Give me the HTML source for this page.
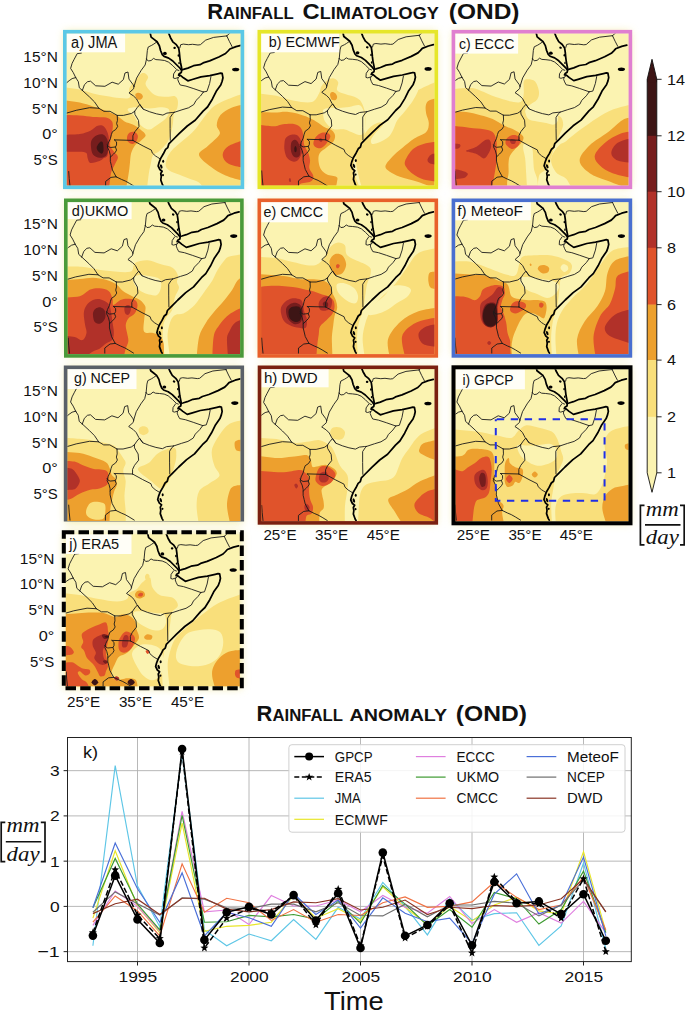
<!DOCTYPE html><html><head><meta charset="utf-8"><style>html,body{margin:0;padding:0;background:#fff;}body{width:685px;height:1011px;overflow:hidden;}svg{display:block;font-family:"Liberation Sans",sans-serif;}</style></head><body>
<svg width="685" height="1011" viewBox="0 0 685 1011">
<defs><clipPath id="pclipa"><rect x="0" y="0" width="174" height="152"/></clipPath><clipPath id="pclipb"><rect x="0" y="0" width="173.4" height="152"/></clipPath><clipPath id="pclipc"><rect x="0" y="0" width="173.4" height="152"/></clipPath><clipPath id="pclipd"><rect x="0" y="0" width="172.5" height="152"/></clipPath><clipPath id="pclipe"><rect x="0" y="0" width="173.4" height="152"/></clipPath><clipPath id="pclipf"><rect x="0" y="0" width="173.4" height="152"/></clipPath><clipPath id="pclipg"><rect x="0" y="0" width="173.1" height="152"/></clipPath><clipPath id="pcliph"><rect x="0" y="0" width="173.2" height="152"/></clipPath><clipPath id="pclipi"><rect x="0" y="0" width="173" height="152"/></clipPath><clipPath id="pclipj"><rect x="0" y="0" width="174" height="152"/></clipPath><clipPath id="gbclip"><rect x="-10" y="-10" width="200" height="162.5"/></clipPath><g id="mlines" fill="none" stroke-linejoin="round" stroke-linecap="round">
<g stroke="#1a1a1a" stroke-width="0.9">
<path d="M14.7,19.6 10.6,20.1 7.6,25.7 5.5,29.8 4,34.9 6.6,39 9.1,44.1"/>
<path d="M9.1,44.1 5.5,45.1 2.5,47.2 -1,50.2"/>
<path d="M9.1,44.1 11.7,48.2 12.7,54.3 15.7,56.9"/>
<path d="M15.7,56.9 17.8,51.2 20.9,48.2 23.9,47.7 29,52.3 38.2,52.8 45.4,48.7 51.5,50.7 56.6,46.1 58.2,39.5 61.2,38.5 62.2,45.6 66.3,51.2 67.2,53"/>
<path d="M15.7,56.9 22.9,63.5 28,68.6 32.1,74.7"/>
<path d="M-1,79.9 9.6,76.8 22.9,74.2 32.1,74.7"/>
<path d="M32.1,74.7 37.2,77.8 43.3,77.8 50.5,81.9"/>
<path d="M50.5,81.9 50.7,86.8 49.9,90 50.9,93 49,96 45.7,98.2 44.6,101.2 43.6,105.3 41.6,109.4 40.6,113.5 42.6,117.6 43.6,121.7 43.6,127.8 44.6,131.9 45.7,136.5 49.4,143.3"/>
<path d="M49.4,143.3 54.7,145.9 58.5,147.5 62.6,149.8 67.8,153"/>
<path d="M38.9,153 38.9,147.9 44.2,143.9 49.4,143.3"/>
<path d="M2.1,138 2.6,145 3.4,153"/>
<path d="M50.5,81.9 56.6,81.9 64.8,79.9 67.9,77.8"/>
<path d="M67.9,77.8 68.1,80.8 71.7,86.9 72.2,93.1 68.1,98.2 66.1,102.3 66.1,106.9"/>
<path d="M66.1,106.9 47.7,106.4"/>
<path d="M47.7,106.4 49.8,108.4 49.8,111.5 48.7,113.5 43.6,114 41.6,113 40.6,111.5"/>
<path d="M48.7,113.5 49.8,116.6 48.7,118.6 46.7,120.7 43.6,123.7"/>
<path d="M66.1,106.9 76.3,112.5 84.5,116.6 85.5,119.6 88.7,122.5 90.6,123.7 93.2,125.3"/>
<path d="M90.2,8.3 87,10.5 84.9,11.8 81.4,13.5 80.5,17 79.7,25.6"/>
<path d="M79.7,25.6 78.3,31.5 74.4,36.8 69.8,44.6 67.2,53"/>
<path d="M79.7,25.6 81.4,27.5 84.3,27 86.7,24.9 89,26.1 93.1,26.4 97.8,27 101.8,28.7 105.9,32.2 110,36.3 112,37"/>
<path d="M109.2,36.8 106.7,40.4 106.4,44.5 108.2,45 111.3,44 113.2,42.5"/>
<path d="M67.2,53 66.8,55.3 62.2,59.4 66.8,62.5 69.8,65.5 72.4,70.4 76.4,75.7 82.9,78.3 89.5,80.3 96,81.6 100,79.6 105.3,79 107.2,78.9"/>
<path d="M67.9,77.8 70.5,74 73.1,71 76.4,75.7"/>
<path d="M107.2,78.9 105.8,80.2 103.2,84.1 103.2,95 103.4,106.8"/>
<path d="M107.2,78.9 115,76.3 121.6,74.3 126.9,71 129,67 133.5,62.5 136.4,58.5"/>
<path d="M136.4,58.5 126.9,55.2 119,52.6 113.3,51.5 111.8,48.6 110.8,46 111.3,44"/>
<path d="M143.9,43.2 142.6,50 140,57.8 136.4,58.5"/>
<path d="M113,14.1 113.8,11.2 116.4,10.6 121.4,11.2 125.6,10.8 131,11.5 133.4,11.2 138.7,6.6 146.6,3.9 159.7,2.4"/>
<path d="M159.7,2.4 162.3,7.9 165,13.1"/>
<path d="M159.7,2.4 163.5,-1"/>
</g><g stroke="#000" stroke-width="1.75">
<path d="M83.2,-1 84.3,3.6 87.2,5.9 90.2,8.3 92.5,12.3 93.7,17 95.4,21.1 97.2,22.9 101.8,24.6 105.9,27.5 109.4,31 112.9,34.5 114.7,36.9 114.4,38.9 112.3,40.2 111.7,41.6 113.5,41.8 116.5,44.3 120.9,47.3 125.3,46 134,43.4 142.8,42.1 150.7,40.3 153.5,39.6 155.1,39.9 155.9,44.3 155.1,47.8 153.7,51.5 149.2,57.8 145.3,65.7 140.5,73.5 136.1,77.6 128.2,86.8 120.3,92.5 112.4,99.9 105.8,106.5 101.9,110.4 100.9,114.1 98.7,115.9 96.5,120.3 93.9,124.6 92.2,129 91.3,132.5 93,136 95.2,137.8 93.9,140 94.4,143 93.9,146.5 95.7,151.5 96.6,153"/>
<path d="M101.5,-1 103.6,4.2 105.9,8.3 109.4,11.2 111.8,14.7 112.4,18.8 112.9,24 113.5,28.7 114.7,34.5 114.9,36.3 116.5,35.9 120.9,34.6 126.6,32.2 133,31.2 136.1,29.4 142.6,27.4 151.8,23.5 158.5,20 161,17.5 162.8,15.5 168.9,13.1 174,11.8"/>
</g><g fill="#000" stroke="none">
<ellipse cx="98" cy="19.9" rx="1.9" ry="1.6" transform="rotate(0 98 19.9)"/>
<ellipse cx="107.7" cy="14.4" rx="1.3" ry="1.1" transform="rotate(20 107.7 14.4)"/>
<ellipse cx="111.5" cy="22" rx="0.8" ry="1.2" transform="rotate(0 111.5 22)"/>
<ellipse cx="112.1" cy="29.6" rx="0.7" ry="1.2" transform="rotate(0 112.1 29.6)"/>
<ellipse cx="168.6" cy="36" rx="3.6" ry="1.8" transform="rotate(0 168.6 36)"/>
<ellipse cx="96.3" cy="127.7" rx="1" ry="1.5" transform="rotate(0 96.3 127.7)"/>
<ellipse cx="94.4" cy="133" rx="1.1" ry="2.2" transform="rotate(-20 94.4 133)"/>
<ellipse cx="96.1" cy="141.7" rx="1" ry="1.1" transform="rotate(0 96.1 141.7)"/>
</g></g></defs>
<rect width="685" height="1011" fill="#fff"/>
<filter id="glow" x="-20%" y="-20%" width="140%" height="140%"><feGaussianBlur stdDeviation="4"/></filter>
<g filter="url(#glow)" opacity="0.9">
<rect x="64.6" y="31.5" width="178" height="156" fill="#f3eaa0"/>
<rect x="259.1" y="31.5" width="177.4" height="156" fill="#f3eaa0"/>
<rect x="453.2" y="31.5" width="177.4" height="156" fill="#f3eaa0"/>
<rect x="65.6" y="200.1" width="176.5" height="156" fill="#f3eaa0"/>
<rect x="259.1" y="200.1" width="177.4" height="156" fill="#f3eaa0"/>
<rect x="453.2" y="200.1" width="177.4" height="156" fill="#f3eaa0"/>
<rect x="65.4" y="367.1" width="177.1" height="156" fill="#f3eaa0"/>
<rect x="259.3" y="367.1" width="177.2" height="156" fill="#f3eaa0"/>
<rect x="453.5" y="367.3" width="177" height="156" fill="#f3eaa0"/>
<rect x="63.8" y="532.3" width="178" height="156" fill="#f3eaa0"/>
</g>
<text x="207.2" y="19.3" font-weight="bold" fill="#111" textLength="86.4" lengthAdjust="spacingAndGlyphs"><tspan font-size="22.5">R</tspan><tspan font-size="17.2">A</tspan><tspan font-size="17.2">I</tspan><tspan font-size="17.2">N</tspan><tspan font-size="17.2">F</tspan><tspan font-size="17.2">A</tspan><tspan font-size="17.2">L</tspan><tspan font-size="17.2">L</tspan></text>
<text x="302.6" y="19.3" font-weight="bold" fill="#111" textLength="136.3" lengthAdjust="spacingAndGlyphs"><tspan font-size="22.5">C</tspan><tspan font-size="17.2">L</tspan><tspan font-size="17.2">I</tspan><tspan font-size="17.2">M</tspan><tspan font-size="17.2">A</tspan><tspan font-size="17.2">T</tspan><tspan font-size="17.2">O</tspan><tspan font-size="17.2">L</tspan><tspan font-size="17.2">O</tspan><tspan font-size="17.2">G</tspan><tspan font-size="17.2">Y</tspan></text>
<text x="448.8" y="19.3" font-weight="bold" fill="#111" textLength="70.7" lengthAdjust="spacingAndGlyphs"><tspan font-size="22.5">(</tspan><tspan font-size="22.5">O</tspan><tspan font-size="22.5">N</tspan><tspan font-size="22.5">D</tspan><tspan font-size="22.5">)</tspan></text>
<g transform="translate(66.6,33.5)">
<g clip-path="url(#pclipa)">
<g transform="scale(1.0029,1)">
<rect x="-1" y="-1" width="175.5" height="154" fill="#fbf3b1"/>
<path d="M-5,53.4C-5,53.4 7.9,54.9 13.1,56C18.3,57.1 21.9,58.9 26.3,60C30.7,61.1 35,61.9 39.4,62.6C43.8,63.4 48.7,64.3 52.6,64.5C56.5,64.7 61.2,65.7 62.9,64C64.6,62.3 61.1,57.9 62.9,54.1C64.7,50.3 71.9,42.5 73.4,41C74.9,39.5 76.1,39.2 77.4,39.6C78.7,40 81.1,41.8 81.3,43.6C81.5,45.4 78.5,48 78.7,50.2C78.9,52.4 80.8,54.7 82.6,56.7C84.3,58.7 86.3,60.9 89.2,62C92.1,63.1 96.6,63.2 99.7,63.3C102.8,63.4 105.7,62 107.6,62.6C109.5,63.2 110.5,65.1 110.9,67.2C111.3,69.3 110.9,73 110.2,75.1C109.5,77.2 107.7,77.5 107,80C106.3,82.5 106.5,86.7 106,90C105.5,93.3 104.8,97 104,100C103.2,103 102.2,105.8 101,108C99.8,110.2 98.5,111.3 97,113C95.5,114.7 93.8,116.5 92,118C90.2,119.5 87.3,120 86,122C84.7,124 84.7,127 84,130C83.3,133 82.7,135.5 82,140C81.3,144.5 80,157 80,157C80,157 -5,157 -5,157C-5,157 -5,53.4 -5,53.4Z" fill="#f9df7b"/>
<path d="M61.6,75.1C62.8,74.5 66,73.8 69.5,73.8C73,73.8 78.7,75.1 82.6,75.1C86.5,75.1 90,73.8 93.1,73.8C96.2,73.8 99.5,74.2 101,75.1C102.5,76 102.7,77.3 102.3,79.1C101.9,80.8 100.6,83.4 98.4,85.6C96.2,87.8 91.8,90.5 89.2,92.2C86.6,94 84.8,95.9 82.6,96.1C80.4,96.3 78,94.8 76,93.5C74,92.2 72.3,90.3 70.8,88.3C69.3,86.3 68.4,83.5 66.9,81.7C65.4,80 62.4,78.9 61.6,77.8C60.8,76.7 60.4,75.7 61.6,75.1Z" fill="#fbf3b1"/>
<path d="M178.5,59C178.5,59 165.1,63.8 160,66C154.9,68.2 151.3,69.7 148,72C144.7,74.3 142.3,77.3 140,80C137.7,82.7 136,85.3 134,88C132,90.7 130,93.7 128,96C126,98.3 124,100.2 122,102C120,103.8 118,105.3 116,107C114,108.7 112,110.2 110,112C108,113.8 105.7,115.8 104,118C102.3,120.2 100.8,122.5 100,125C99.2,127.5 98.3,130.8 99,133C99.7,135.2 101.8,136.7 104,138C106.2,139.3 109,139.8 112,141C115,142.2 118.7,143.7 122,145C125.3,146.3 129.3,147 132,149C134.7,151 138,157 138,157C138,157 178.5,157 178.5,157C178.5,157 178.5,59 178.5,59Z" fill="#f9df7b"/>
<path d="M-5,66.5C-5,66.5 7.9,68 13.1,69.1C18.3,70.2 21.9,71.6 26.3,73C30.7,74.4 35.5,76 39.4,77.5C43.3,79 46.8,80.3 49.9,82.1C53,83.8 55.1,86.5 57.8,88C60.5,89.5 63.4,89.7 66,91C68.6,92.3 71.5,94.1 73.6,95.9C75.7,97.7 78.8,99.8 78.8,101.8C78.8,103.8 75.3,106 73.6,107.7C71.8,109.4 69.8,109.7 68.3,111.7C66.8,113.7 65.3,116.5 64.4,119.6C63.5,122.7 63.5,126.6 63.1,130.1C62.7,133.6 62.5,136.1 61.8,140.6C61.1,145.1 59,157 59,157C59,157 -5,157 -5,157C-5,157 -5,66.5 -5,66.5Z" fill="#eda02e"/>
<path d="M68.5,61C68.6,60 69.6,59.6 70.5,59.4C71.4,59.2 73.1,59.4 74,60C74.9,60.6 76.1,62 76.1,63C76.1,64 75,65.5 74,65.9C73,66.3 70.9,66.3 70,65.5C69.1,64.7 68.4,62 68.5,61Z" fill="#eda02e"/>
<path d="M132,121.4C131.5,118 137.4,116 140.8,112.5C144.2,109 151.1,104.1 152.6,100.7C154.1,97.3 149.6,95.1 149.7,91.9C149.8,88.7 150.9,84.5 153.4,81.6C155.9,78.6 160.2,76 164.4,74.2C168.6,72.4 178.5,70.5 178.5,70.5C178.5,70.5 178.5,148 178.5,148C178.5,148 164.3,144.5 158.5,142C152.7,139.5 148.2,136.6 143.8,133.2C139.4,129.8 132.5,124.9 132,121.4Z" fill="#eda02e"/>
<path d="M-5,81.5C-5,81.5 7.9,81.8 13.1,82.1C18.3,82.4 21.9,83.1 26.3,83.4C30.7,83.7 36.2,83.3 39.4,84.1C42.6,84.9 44.2,86.2 45.3,88C46.4,89.8 46.1,92.2 46,94.6C45.9,97 45.1,99.7 44.7,102.5C44.3,105.3 43,109.1 43.4,111.7C43.8,114.3 46,116.3 47.3,118.3C48.6,120.3 51,121.5 51.2,123.5C51.4,125.5 49.7,127.7 48.6,130.1C47.5,132.5 45.6,135.4 44.7,138C43.8,140.6 43.9,142.7 43.4,145.9C42.9,149.1 42,157 42,157C42,157 -5,157 -5,157C-5,157 -5,81.5 -5,81.5Z" fill="#e0532b"/>
<path d="M60.4,103C60.7,101.5 61.7,99.8 63,99C64.3,98.2 66.7,98 68,98.5C69.3,99 70.7,100.6 71,102C71.3,103.4 70.8,105.6 70,107C69.2,108.4 67.5,110.2 66,110.4C64.5,110.6 61.9,109.2 61,108C60.1,106.8 60.1,104.5 60.4,103Z" fill="#e0532b"/>
<path d="M155.6,121.4C155.6,118.5 157.7,115.1 161.5,112.5C165.3,109.9 178.5,105.9 178.5,105.9C178.5,105.9 178.5,134.6 178.5,134.6C178.5,134.6 165.3,132.4 161.5,130.2C157.7,128 155.6,124.4 155.6,121.4Z" fill="#e0532b"/>
<path d="M-5,101.2C-5,101.2 8.3,101.2 13.1,100.5C17.9,99.8 20.8,98.5 23.7,97.2C26.6,95.9 28.2,93.5 30.2,92.6C32.2,91.7 34,91.5 35.5,92C37,92.5 38.3,93.9 39.4,95.9C40.5,97.9 41.7,100.7 42,103.8C42.3,106.9 41.6,111.2 41.4,114.3C41.2,117.4 41.5,120.5 40.7,122.2C39.9,124 38.1,123.9 36.8,124.8C35.5,125.7 35.1,126.7 32.9,127.5C30.7,128.3 25.7,129.8 23.7,129.4C21.7,129 21.7,126.4 21,124.8C20.3,123.2 21,120.7 19.7,119.6C18.4,118.5 16.5,118.5 13.1,118.3C9.7,118.1 -5,118.3 -5,118.3C-5,118.3 -5,101.2 -5,101.2Z" fill="#b13129"/>
<path d="M25,106.4C26,104.5 28.2,102.7 30.2,101.8C32.2,100.9 35,100.4 36.8,101.2C38.5,102 39.9,104 40.7,106.4C41.5,108.8 41.6,113 41.4,115.6C41.2,118.2 40.8,120.8 39.4,122.2C38,123.6 35.1,124.4 32.9,124.2C30.7,124 27.7,122.8 26.3,120.9C24.9,119 24.5,115.4 24.3,113C24.1,110.6 24,108.3 25,106.4Z" fill="#761d1d"/>
<path d="M30.2,113C30.6,111.6 32.5,109.1 33.5,108.4C34.5,107.8 35.6,107.8 36.1,109.1C36.6,110.4 37,115.2 36.8,117C36.6,118.8 35.8,120.2 34.8,120.2C33.8,120.2 31.7,118.2 30.9,117C30.1,115.8 29.8,114.4 30.2,113Z" fill="#3d1515"/>
<use href="#mlines" transform="translate(0,0)"/>
</g>
<rect x="-1" y="-1" width="59.5" height="19.8" fill="#fff" fill-opacity="0.9"/>
<text x="4.5" y="14.3" font-size="15.6" textLength="46.17" lengthAdjust="spacingAndGlyphs" fill="#111">a) JMA</text>
</g>
<rect x="-1.8" y="-1.8" width="177.6" height="155.6" fill="none" stroke="#5bc8e6" stroke-width="3.6"/>
</g>
<g transform="translate(261.1,33.5)">
<g clip-path="url(#pclipb)">
<g transform="scale(0.9994,1)">
<rect x="-1" y="-1" width="175.5" height="154" fill="#fbf3b1"/>
<path d="M-5,59.7C-5,59.7 8.9,60.9 15.2,62.2C21.5,63.5 27.1,66.2 33,67.3C38.9,68.4 46.6,69.8 50.8,68.6C55,67.4 56.4,62.6 58,60C59.6,57.4 59,54.9 60.4,52.7C61.8,50.5 64.3,48.1 66.3,46.8C68.3,45.5 70.4,44.5 72.2,44.8C74,45.1 76.4,46.8 77.1,48.8C77.8,50.8 74.9,54.7 76.1,56.7C77.2,58.7 80.7,59.3 84,60.6C87.3,61.9 93.1,62.9 95.9,64.5C98.7,66.1 99.7,67.4 101,70C102.3,72.6 103.5,75.8 104,80C104.5,84.2 104.3,90.3 104,95C103.7,99.7 103,104.7 102,108C101,111.3 99.3,112.2 98,115C96.7,117.8 95,121.7 94,125C93,128.3 91.8,131.7 92,135C92.2,138.3 93.7,141.3 95,145C96.3,148.7 100,157 100,157C100,157 -5,157 -5,157C-5,157 -5,59.7 -5,59.7Z" fill="#f9df7b"/>
<path d="M62.5,76C63.5,75.1 65.4,74.7 68,74.4C70.6,74.2 74.7,74.7 78,74.5C81.3,74.3 84.7,74 88,73.5C91.3,73 95.5,71.1 97.8,71.5C100.1,71.9 101,73.8 102,76C103,78.2 103.7,81.7 104,85C104.3,88.3 104.5,93.3 104,96C103.5,98.7 102.2,100.1 101,101C99.8,101.9 98.6,101.6 96.8,101.2C95,100.8 92.5,99.4 90.3,98.5C88.1,97.6 86.8,96.4 83.7,95.9C80.7,95.4 75.3,96.7 72,95.4C68.7,94.1 65.7,90.6 64,88C62.3,85.4 62.2,82 62,80C61.8,78 61.5,76.9 62.5,76Z" fill="#fbf3b1"/>
<path d="M178.5,46.8C178.5,46.8 162.6,53.4 157,56.7C151.4,60 148.4,62.7 145.1,66.5C141.8,70.3 139.1,76.6 137.2,79.5C135.3,82.4 134.9,83.6 133,85C131.1,86.4 128.5,87.3 126,88C123.5,88.7 120,88.6 118,89C116,89.4 115.4,89.8 114,90.5C112.6,91.2 111.2,91.9 109.5,93.5C107.8,95.1 105.9,97.2 104,100C102.1,102.8 99.5,105.8 98,110C96.5,114.2 95.2,120 95,125C94.8,130 95.9,134.7 97,140C98.1,145.3 101.6,157 101.6,157C101.6,157 178.5,157 178.5,157C178.5,157 178.5,46.8 178.5,46.8Z" fill="#f9df7b"/>
<path d="M157.3,56C157.3,57.8 154.2,63.4 152,67C149.8,70.6 146.7,74.2 144.1,77.5C141.5,80.8 138.3,83.6 136.3,86.7C134.3,89.8 133.8,93.1 132.3,95.9C130.8,98.8 129.5,101.6 127.1,103.8C124.7,106 120.5,108 117.9,109.1C115.3,110.2 112.6,110.9 111.3,110.4C110,110 109.6,108.2 110,106.4C110.4,104.7 112.2,102.1 113.9,99.9C115.7,97.7 118.8,95.3 120.5,93.3C122.2,91.3 122.4,89.9 124,88C125.6,86.1 127.7,84.3 130,82C132.3,79.7 135.3,77 138,74C140.7,71 143.7,67 146,64C148.3,61 150.1,57.3 152,56C153.9,54.7 157.3,54.2 157.3,56Z" fill="#fbf3b1"/>
<path d="M-5,78.3C-5,78.3 7.6,79 12.8,79C18,79 21.6,78 26,78.3C30.4,78.6 35.2,79.9 39.1,81C43,82.1 46.8,83.6 49.6,84.9C52.5,86.2 53.8,87.3 56.2,88.8C58.6,90.3 61.7,92.8 64.1,94.1C66.5,95.4 69,95.4 70.7,96.7C72.4,98 73.8,100 74,102C74.2,104 73.4,106.5 72,108.5C70.6,110.5 67.7,112.1 65.4,114C63.2,115.9 59.8,117.7 58.5,120C57.2,122.3 57.2,125.3 57.5,128C57.8,130.7 58.6,133.8 60,136C61.4,138.2 63.4,139.8 66,141C68.6,142.2 73.8,142.3 75.5,143.5C77.2,144.7 76.2,145.8 76,148C75.8,150.2 74,157 74,157C74,157 -5,157 -5,157C-5,157 -5,78.3 -5,78.3Z" fill="#eda02e"/>
<path d="M69,61C69.1,59.8 70.1,58.8 71,58.6C71.9,58.4 73.7,59.2 74.5,60C75.3,60.8 76.1,62.4 76.1,63.5C76.1,64.6 75.4,66.1 74.5,66.5C73.6,66.9 71.4,66.9 70.5,66C69.6,65.1 68.9,62.2 69,61Z" fill="#eda02e"/>
<path d="M124.4,132.7C124.8,130.3 128.2,126.6 131,123.5C133.8,120.4 137.8,117.4 141.5,114.3C145.2,111.2 149.4,107.7 153.3,105.1C157.2,102.5 162.8,101.1 165.2,98.5C167.6,95.9 167.8,92.5 167.8,89.4C167.8,86.4 165.7,83.1 165.2,80.2C164.7,77.3 164.3,74.2 164.8,72C165.3,69.8 165.7,68.3 168,67C170.3,65.7 178.5,64 178.5,64C178.5,64 178.5,157 178.5,157C178.5,157 163.9,150.8 157.3,148.5C150.7,146.2 143.7,144.9 138.9,143.2C134.1,141.4 130.8,139.8 128.4,138C126,136.2 124,135.1 124.4,132.7Z" fill="#eda02e"/>
<path d="M-5,90.8C-5,90.8 8.3,92.8 12.8,92.8C17.3,92.8 18.5,91.1 22,90.8C25.5,90.5 30.8,90 33.9,90.8C37,91.6 39,93.3 40.4,95.4C41.8,97.5 41.9,100.7 42.4,103.3C42.9,105.9 42.3,108.6 43.1,111.2C43.9,113.8 46,116.5 47,119.1C48,121.7 48.8,124.4 49,127C49.2,129.6 47.8,132.2 48.3,134.8C48.8,137.4 52.1,140.5 52.3,142.7C52.5,144.9 51.8,146.7 49.6,148C47.4,149.3 41.1,149.1 39.1,150.6C37.1,152.1 37.8,157 37.8,157C37.8,157 -5,157 -5,157C-5,157 -5,90.8 -5,90.8Z" fill="#e0532b"/>
<path d="M52.3,109.9C52.3,108.2 53.6,105 54.9,103.3C56.2,101.5 58.1,100.1 60.1,99.4C62.1,98.8 65.2,98.8 66.7,99.4C68.2,100.1 69.5,101.5 69.3,103.3C69.1,105 66.9,108 65.4,109.9C63.9,111.8 61.9,113.8 60.1,114.5C58.4,115.2 56.2,114.6 54.9,113.8C53.6,113 52.3,111.7 52.3,109.9Z" fill="#e0532b"/>
<path d="M144.1,127.5C145.2,124.4 148.9,118.4 152,115.6C155.1,112.8 158.1,111.7 162.5,110.4C166.9,109.1 178.5,107.7 178.5,107.7C178.5,107.7 178.5,148.5 178.5,148.5C178.5,148.5 166.9,147.2 162.5,145.9C158.1,144.6 154.8,142.6 152,140.6C149.2,138.6 146.8,136.2 145.5,134C144.2,131.8 143,130.6 144.1,127.5Z" fill="#e0532b"/>
<path d="M166.5,126.1C166.7,124.6 168.4,122 170.4,120.9C172.4,119.8 178.5,119.6 178.5,119.6C178.5,119.6 178.5,131.4 178.5,131.4C178.5,131.4 171.1,131 169.1,130.1C167.1,129.2 166.3,127.6 166.5,126.1Z" fill="#b13129"/>
<path d="M57.5,106C57.4,105.3 58.8,104.5 59.5,104.6C60.2,104.7 61.4,105.8 61.5,106.5C61.6,107.2 60.7,108.6 60,108.5C59.3,108.4 57.6,106.7 57.5,106Z" fill="#b13129"/>
<path d="M23.4,109.9C23.6,107.9 23.6,106 24.7,104.6C25.8,103.2 28,101.7 30,101.3C32,100.9 34.8,100.8 36.5,102C38.2,103.2 39.6,105.9 40.4,108.5C41.2,111.1 41.5,114.9 41.1,117.7C40.7,120.5 39.2,123.8 37.8,125.6C36.4,127.4 34.6,128.5 32.6,128.3C30.6,128.1 27.5,126.3 26,124.3C24.5,122.3 23.8,118.8 23.4,116.4C23,114 23.2,111.9 23.4,109.9Z" fill="#b13129"/>
<path d="M27.8,146C27.9,145.3 28.6,144.2 29,144.5C29.4,144.8 30.1,146.8 30,147.5C29.9,148.2 29,148.8 28.6,148.5C28.2,148.2 27.7,146.7 27.8,146Z" fill="#b13129"/>
<path d="M30,109.9C30.4,108.1 31.6,107 32.6,106.6C33.6,106.1 34.8,106.2 35.8,107.2C36.8,108.2 38,110.3 38.5,112.5C39,114.7 39.4,118.5 39.1,120.4C38.8,122.3 37.6,123.3 36.5,123.7C35.4,124.1 33.7,124 32.6,123C31.5,122 30.4,119.9 30,117.7C29.6,115.5 29.6,111.8 30,109.9Z" fill="#761d1d"/>
<path d="M33.2,115C33.3,114 33.9,112.6 34.3,112.5C34.7,112.4 35.3,113.6 35.5,114.5C35.7,115.4 35.6,117.3 35.3,118C35,118.7 34.1,119 33.8,118.5C33.4,118 33.1,116 33.2,115Z" fill="#3d1515"/>
<use href="#mlines" transform="translate(-1.5,-0.6)"/>
</g>
<rect x="-1" y="-1" width="79" height="19.8" fill="#fff" fill-opacity="0.9"/>
<text x="7.7" y="13.2" font-size="14.9" textLength="70.89" lengthAdjust="spacingAndGlyphs" fill="#111">b) ECMWF</text>
</g>
<rect x="-1.8" y="-1.8" width="177" height="155.6" fill="none" stroke="#e6e62a" stroke-width="3.6"/>
</g>
<g transform="translate(455.2,33.5)">
<g clip-path="url(#pclipc)">
<g transform="scale(0.9994,1)">
<rect x="-1" y="-1" width="175.5" height="154" fill="#fbf3b1"/>
<path d="M-5,55.9C-5,55.9 10.1,54.4 15.2,54.6C20.3,54.8 21.2,55.7 25.4,57.2C29.6,58.7 35.1,61.6 40.6,63.5C46.1,65.4 54.6,67.9 58.4,68.6C62.2,69.3 64.3,69.4 66,68C67.7,66.6 68.2,63.3 68.6,60C69,56.7 67.9,50.4 68.6,48C69.3,45.6 71.1,45.7 73,45.7C74.9,45.7 78.2,46 80,48C81.8,50 83.5,55 83.8,58C84.1,61 83.6,63.7 82,66C80.4,68.3 76,70 74,72C72,74 69.8,75.8 70,78C70.2,80.2 72.5,84 75,85C77.5,86 80.8,84.5 85,84C89.2,83.5 96.8,82 100,82C103.2,82 104.7,82.3 106,84C107.3,85.7 108.3,89 108,92C107.7,95 105.3,98.7 104,102C102.7,105.3 101.3,108.3 100,112C98.7,115.7 97.2,120.3 96,124C94.8,127.7 94.3,131.7 93,134C91.7,136.3 89.5,136.7 88,138C86.5,139.3 84.9,139.3 84,142C83.1,144.7 82,157 82,157C82,157 -5,157 -5,157C-5,157 -5,55.9 -5,55.9Z" fill="#f9df7b"/>
<path d="M71,80C71.7,78.6 74.8,77.8 78,77.5C81.2,77.2 86.2,78.1 90,78.5C93.8,78.9 98.8,78.8 101,80C103.2,81.2 103.3,84.2 103,86C102.7,87.8 101,90.4 99,91C97,91.6 93.8,90 91,89.5C88.2,89 84.8,88.6 82,88C79.2,87.4 75.8,87.3 74,86C72.2,84.7 70.3,81.4 71,80Z" fill="#fbf3b1"/>
<path d="M69.5,110.3C71,110.2 75.4,112.3 76.8,114.7C78.2,117.1 77.6,121.2 78,124.9C78.4,128.6 78.3,133.2 79,136.6C79.7,140 81.3,141.9 82,145.3C82.7,148.7 83,157 83,157C83,157 72,157 72,157C72,157 71.3,145.3 71,140C70.7,134.7 70.5,129.2 70,125C69.5,120.8 68.1,117.5 68,115C67.9,112.5 68,110.3 69.5,110.3Z" fill="#fbf3b1"/>
<path d="M178.5,70.4C178.5,70.4 164.6,73.3 158.4,75.7C152.2,78.1 146.3,81.8 141.3,84.9C136.3,88 132.1,91.2 128.2,94.1C124.3,96.9 120.8,99.6 117.7,102C114.6,104.4 112,107 109.8,108.5C107.6,110 106.3,109.6 104.5,111.2C102.7,112.8 100.4,115.7 99,118C97.6,120.3 96.3,122.7 96,125C95.7,127.3 96,129.5 97,132C98,134.5 99.7,137.8 102,140C104.3,142.2 108.4,142.5 111,145.3C113.6,148.1 117.7,157 117.7,157C117.7,157 178.5,157 178.5,157C178.5,157 178.5,70.4 178.5,70.4Z" fill="#f9df7b"/>
<path d="M-5,77.4C-5,77.4 8.4,78 14,78.9C19.6,79.8 24.2,81.3 28.6,82.6C33,83.9 36.6,85.2 40.3,86.9C43.9,88.6 47.1,91.1 50.5,92.8C53.9,94.5 57.8,95.5 60.7,97.2C63.6,98.9 67,101.1 68,103C69,104.9 67.8,106.8 66.6,108.8C65.4,110.8 62.7,112.5 60.7,114.7C58.8,116.9 56.1,119.6 54.9,122C53.7,124.4 53.6,126.4 53.4,129.3C53.1,132.2 53.6,136.3 53.4,139.5C53.2,142.7 52.2,145.4 52,148.3C51.8,151.2 52,157 52,157C52,157 -5,157 -5,157C-5,157 -5,77.4 -5,77.4Z" fill="#eda02e"/>
<path d="M124.5,127C124.5,122.3 129.9,116.5 134.6,111.8C139.2,107.1 146.9,103.2 152.4,99C157.9,94.8 163.2,88.9 167.6,86.4C171.9,83.9 178.5,83.8 178.5,83.8C178.5,83.8 178.5,157 178.5,157C178.5,157 159.7,150.2 152.4,147.3C145.1,144.4 139.2,143.1 134.6,139.7C129.9,136.3 124.5,131.7 124.5,127Z" fill="#eda02e"/>
<path d="M-5,92C-5,92 8.4,93.6 14,94.2C19.6,94.8 24.7,95 28.6,95.7C32.5,96.4 35.3,96.9 37.4,98.6C39.5,100.3 40.3,103.2 41,105.9C41.7,108.6 41.6,111.5 41.7,114.7C41.8,117.9 41.9,121.5 41.7,124.9C41.5,128.3 40.8,131.9 40.3,135.1C39.8,138.3 39.5,140.2 38.8,143.9C38.1,147.6 35.9,157 35.9,157C35.9,157 -5,157 -5,157C-5,157 -5,92 -5,92Z" fill="#e0532b"/>
<path d="M50.5,110.3C49.8,108.5 50.8,106 52,104.5C53.2,103 55.9,101.8 57.8,101.5C59.7,101.2 62.4,102 63.6,103C64.8,104 65.3,105.7 65.1,107.4C64.9,109.1 63.7,111.9 62.2,113.2C60.7,114.5 58.2,115.9 56.3,115.4C54.3,114.9 51.2,112.1 50.5,110.3Z" fill="#e0532b"/>
<path d="M139.7,121.9C140.5,118.1 145.7,112.8 149.9,109.2C154.1,105.6 160.3,102.2 165.1,100.3C169.9,98.4 178.5,97.8 178.5,97.8C178.5,97.8 178.5,144.8 178.5,144.8C178.5,144.8 163.1,141.8 157.5,139.7C151.9,137.6 147.8,135.1 144.8,132.1C141.8,129.1 138.8,125.7 139.7,121.9Z" fill="#e0532b"/>
<path d="M11.1,116.9C12,116.4 18.4,114.8 21.3,113.2C24.2,111.6 26.4,108.5 28.6,107.4C30.8,106.3 33.2,105.6 34.4,106.6C35.6,107.6 36.1,110.9 35.9,113.2C35.7,115.5 34.2,118.5 33,120.5C31.8,122.5 30.6,124.9 28.6,124.9C26.7,124.9 24,121.6 21.3,120.5C18.6,119.4 13.4,118.6 12.5,118.3C11.6,118 10.2,117.4 11.1,116.9Z" fill="#b13129"/>
<path d="M-5,109.5C-5,109.5 2.9,110.2 4,110.5C5.1,110.8 5.4,111.8 5.2,112.5C5,113.2 4.6,114.6 3,115C1.4,115.4 -5,115 -5,115C-5,115 -5,109.5 -5,109.5Z" fill="#b13129"/>
<path d="M-5,135C-5,135 3.1,136.2 6,137C8.9,137.8 11.8,138.8 12.5,140C13.2,141.2 11.4,143.1 10,144C8.6,144.9 6.5,145 4,145.3C1.5,145.6 -5,146 -5,146C-5,146 -5,135 -5,135Z" fill="#b13129"/>
<path d="M54.9,106.5C55.1,105.8 56.5,105.4 57.5,105.5C58.5,105.6 60.4,106.2 60.7,107C61,107.8 60.3,109.8 59.5,110.3C58.7,110.8 56.8,110.6 56,110C55.2,109.4 54.6,107.2 54.9,106.5Z" fill="#b13129"/>
<path d="M156.2,119.4C156.2,116.4 158.9,111.8 162.6,109.2C166.3,106.7 178.5,104.1 178.5,104.1C178.5,104.1 178.5,129.5 178.5,129.5C178.5,129.5 166.3,128.7 162.6,127C158.9,125.3 156.2,122.4 156.2,119.4Z" fill="#b13129"/>
<use href="#mlines" transform="translate(-2.3,-0.2)"/>
</g>
<rect x="-1" y="-1" width="63.9" height="21.1" fill="#fff" fill-opacity="0.9"/>
<text x="3.7" y="15.4" font-size="14.9" textLength="55.39" lengthAdjust="spacingAndGlyphs" fill="#111">c) ECCC</text>
</g>
<rect x="-1.8" y="-1.8" width="177" height="155.6" fill="none" stroke="#e07fd0" stroke-width="3.6"/>
</g>
<g transform="translate(67.6,202.1)">
<g clip-path="url(#pclipd)">
<g transform="scale(0.9942,1)">
<rect x="-1" y="-1" width="175.5" height="154" fill="#fbf3b1"/>
<path d="M-5,64.6C-5,64.6 7.4,64 14.4,64.6C21.4,65.2 29.2,67.6 37.3,68.4C45.3,69.2 57.7,70.9 62.7,69.7C67.7,68.5 64.8,62.7 67.8,60.8C70.8,58.9 76.3,58 80.5,58.2C84.7,58.4 89,60.7 93.2,62C97.4,63.3 102.9,63.9 105.9,65.8C108.9,67.7 110.3,71.1 111,73.5C111.7,75.9 109.8,77.9 110,80C110.2,82.1 112.3,83.5 112,86C111.7,88.5 109,91.8 108,95C107,98.2 106.7,102.5 106,105C105.3,107.5 105.2,108.2 104,110C102.8,111.8 100.3,113.5 99,116C97.7,118.5 96.5,121 96,125C95.5,129 95.7,134.7 96,140C96.3,145.3 98,157 98,157C98,157 -5,157 -5,157C-5,157 -5,64.6 -5,64.6Z" fill="#f9df7b"/>
<path d="M66.3,76C67.1,74.5 69.4,73.3 72,73C74.6,72.7 78.6,73.3 82,74C85.4,74.7 90.6,75.2 92.6,77C94.6,78.8 94.4,82.4 94,85C93.6,87.6 92.3,91.6 90,92.8C87.7,94 83,92.8 80,92C77,91.2 74.2,89.7 72,88C69.8,86.3 68,84 67,82C66,80 65.5,77.5 66.3,76Z" fill="#fbf3b1"/>
<path d="M178.5,51.7C178.5,51.7 166.1,53.4 162.9,54.4C159.7,55.4 159.6,56.2 157.6,58.4C155.6,60.6 153,64.4 151,67.7C149,71 147.6,75 145.6,78.3C143.6,81.6 141.2,84.5 139,87.6C136.8,90.7 134.6,94 132.4,96.9C130.2,99.8 128.4,102.5 125.7,104.9C123,107.3 119.3,110.2 116.4,111.5C113.5,112.8 110.5,111.7 108.4,112.8C106.3,113.9 105.3,115.1 104,118C102.7,120.9 101.3,126.3 100.8,130C100.3,133.7 100.6,135.5 101,140C101.4,144.5 103.3,157 103.3,157C103.3,157 178.5,157 178.5,157C178.5,157 178.5,51.7 178.5,51.7Z" fill="#f9df7b"/>
<path d="M-5,78.3C-5,78.3 7.2,77.4 12.3,77C17.4,76.6 21.1,75.6 25.5,75.7C29.9,75.8 34.7,76.6 38.6,77.7C42.5,78.8 46.2,80.5 49.1,82.3C52,84.1 53.1,86.8 55.7,88.8C58.3,90.8 62.1,92.6 64.9,94.1C67.8,95.6 70.6,96.3 72.8,98C75,99.7 77.1,102 78,104C78.9,106 78.2,107.7 78,110C77.8,112.3 77.2,114.7 77,118C76.8,121.3 75.5,127.4 77,129.6C78.5,131.8 83.4,130.2 86,130.9C88.6,131.6 90.8,131.8 92.6,133.5C94.4,135.2 95.9,137.5 96.6,141.4C97.3,145.3 96.6,157 96.6,157C96.6,157 -5,157 -5,157C-5,157 -5,78.3 -5,78.3Z" fill="#eda02e"/>
<path d="M129.7,157C129.7,157 130.8,140.1 132.4,134.1C134,128.1 136.6,124.8 139,120.8C141.4,116.8 143.9,114 147,110.2C150.1,106.4 154.5,102 157.6,98.2C160.7,94.4 163.4,90.9 165.6,87.6C167.8,84.3 168.8,80.7 170.9,78.3C173.1,75.9 178.5,73 178.5,73C178.5,73 178.5,157 178.5,157C178.5,157 129.7,157 129.7,157Z" fill="#eda02e"/>
<path d="M-5,95.4C-5,95.4 7.7,95.4 12.3,94.1C16.9,92.8 19.6,88.8 22.9,87.5C26.2,86.2 29,86 32.1,86.2C35.2,86.4 39.1,87 41.3,88.8C43.5,90.5 44.4,94.3 45.2,96.7C46,99.1 44.7,102.8 46,103C47.3,103.2 50.9,99 53.2,98C55.5,97 57.4,96.7 59.8,96.7C62.2,96.7 66,96.9 67.7,98C69.5,99.1 70.3,101.1 70.3,103.3C70.3,105.5 69.2,109 67.7,111.2C66.2,113.4 62.6,114.4 61.1,116.4C59.6,118.4 58.7,120.6 58.5,123C58.3,125.4 59.4,128.3 59.8,130.9C60.2,133.5 61.3,136.2 61.1,138.8C60.9,141.4 59.4,143.6 58.5,146.6C57.6,149.6 56,157 56,157C56,157 -5,157 -5,157C-5,157 -5,95.4 -5,95.4Z" fill="#e0532b"/>
<path d="M145.6,157C145.6,157 145.9,139.7 147,134.1C148.1,128.5 150.1,126.8 152.3,123.5C154.5,120.2 157.7,116.7 160.3,114.2C163,111.8 165.2,110.3 168.2,108.8C171.2,107.2 178.5,104.9 178.5,104.9C178.5,104.9 178.5,157 178.5,157C178.5,157 145.6,157 145.6,157Z" fill="#e0532b"/>
<path d="M16.3,111.2C16.5,107.9 17.4,105.5 18.9,103.3C20.4,101.1 23.1,99 25.5,98C27.9,97 30.8,96.7 33.4,97.4C36,98.1 39.5,99.7 41.3,102C43,104.3 43.2,108.1 43.9,111.2C44.5,114.3 44.8,117.3 45.2,120.4C45.6,123.5 46.5,126.8 46.5,129.6C46.5,132.4 46.5,135.5 45.2,137.5C43.9,139.5 40.8,139.9 38.6,141.4C36.4,142.9 34.3,145.3 32.1,146.6C29.9,147.9 28.4,147.6 25.5,149.3C22.6,151 15,157 15,157C15,157 -5,157 -5,157C-5,157 -5,133.5 -5,133.5C-5,133.5 3.8,134.1 7.1,134.8C10.4,135.6 13,138.7 15,138C17,137.3 18.6,133.4 19,130.9C19.4,128.4 18.1,126.3 17.6,123C17.2,119.7 16.1,114.5 16.3,111.2Z" fill="#b13129"/>
<path d="M57.1,106C57.3,104.6 58.1,103.7 59,103.3C59.9,102.9 61.7,102.8 62.5,103.5C63.3,104.2 63.9,106 63.7,107.5C63.5,109 62.5,111.8 61.5,112.5C60.5,113.2 58.7,112.6 58,111.5C57.3,110.4 56.9,107.4 57.1,106Z" fill="#b13129"/>
<path d="M161.6,157C161.6,157 160.1,140.9 160.3,136.7C160.5,132.5 161.6,131.5 162.9,128.8C164.2,126.2 165.6,122.8 168.2,120.8C170.8,118.8 178.5,116.8 178.5,116.8C178.5,116.8 178.5,157 178.5,157C178.5,157 161.6,157 161.6,157Z" fill="#b13129"/>
<path d="M25.5,111.2C25.7,109.1 26.8,107.6 28.1,106.6C29.4,105.6 31.9,105 33.4,105.3C34.9,105.6 36.5,106.9 37.3,108.5C38.1,110.1 38.4,113.1 38,115.1C37.6,117.1 35.9,119.3 34.7,120.4C33.5,121.5 32,121.9 30.7,121.7C29.4,121.5 27.7,120.8 26.8,119.1C25.9,117.3 25.3,113.3 25.5,111.2Z" fill="#761d1d"/>
<use href="#mlines" transform="translate(-1.5,-2)"/>
</g>
<rect x="-1" y="-1" width="65" height="18" fill="#fff" fill-opacity="0.9"/>
<text x="4.2" y="14.3" font-size="14.9" textLength="56.47" lengthAdjust="spacingAndGlyphs" fill="#111">d)UKMO</text>
</g>
<rect x="-1.8" y="-1.8" width="176.1" height="155.6" fill="none" stroke="#4a9a3a" stroke-width="3.6"/>
</g>
<g transform="translate(261.1,202.1)">
<g clip-path="url(#pclipe)">
<g transform="scale(0.9994,1)">
<rect x="-1" y="-1" width="175.5" height="154" fill="#fbf3b1"/>
<path d="M-5,54.6C-5,54.6 9.3,55 15.2,55.9C21.1,56.8 24.6,58.4 30.5,59.7C36.4,61 45.7,63.7 50.8,63.5C55.9,63.3 58,61.4 61,58.4C64,55.4 66.1,48.7 68.6,45.7C71.1,42.7 73.7,41 76.2,40.6C78.7,40.2 82.1,41.1 83.8,43.2C85.5,45.3 83.4,50.3 86.4,53.3C89.4,56.3 97.8,58.9 101.6,61C105.4,63.1 107.9,63.9 109.2,66C110.5,68.1 109.7,71 109.2,73.7C108.7,76.4 106.9,78.5 106,82C105.1,85.5 104.7,90.7 104,95C103.3,99.3 103,103.8 102,108C101,112.2 99,115.5 98,120C97,124.5 96.2,128.8 96,135C95.8,141.2 97,157 97,157C97,157 -5,157 -5,157C-5,157 -5,54.6 -5,54.6Z" fill="#f9df7b"/>
<path d="M76.2,82C77.5,80.9 81.2,80.6 84,81.3C86.8,82 90.8,83.9 93,86C95.2,88.1 96.7,91.5 97,94C97.3,96.5 96.5,100 95,101C93.5,102 90.5,101.2 88,100C85.5,98.8 82,96 80,94C78,92 76.6,90 76,88C75.4,86 74.9,83.1 76.2,82Z" fill="#fbf3b1"/>
<path d="M178.5,45.7C178.5,45.7 162.7,47.8 157.5,50.8C152.3,53.8 151.1,58.4 147.3,63.5C143.5,68.6 139.2,75.8 134.6,81.3C129.9,86.8 123.6,91.8 119.4,96.5C115.2,101.2 111.8,105 109.2,109.2C106.7,113.4 105.4,117.2 104.1,121.9C102.8,126.6 101.6,131.3 101.6,137.2C101.6,143 104.1,157 104.1,157C104.1,157 178.5,157 178.5,157C178.5,157 178.5,45.7 178.5,45.7Z" fill="#f9df7b"/>
<path d="M132,84C128.7,85.5 126.7,90.3 124,93C121.3,95.7 118.3,98 116,100C113.7,102 111.7,103.3 110,105C108.3,106.7 106.3,108.7 106,110C105.7,111.3 106.3,112.7 108,113C109.7,113.3 113,112.8 116,112C119,111.2 122.7,109.8 126,108C129.3,106.2 132.7,103.2 136,101C139.3,98.8 143.7,97.2 146,95C148.3,92.8 150.3,89.8 150,88C149.7,86.2 147,84.7 144,84C141,83.3 135.3,82.5 132,84Z" fill="#fbf3b1"/>
<path d="M68.6,58.4C69.2,56.1 71.6,53 73.7,52.1C75.8,51.2 79.4,51.6 81.3,53.3C83.2,55 85.1,59.2 85.1,62.2C85.1,65.2 83.2,69.4 81.3,71.1C79.4,72.8 75.6,73.2 73.7,72.4C71.8,71.6 70.8,68.3 69.9,66C69.1,63.7 68,60.7 68.6,58.4Z" fill="#eda02e"/>
<path d="M75,63.5C75.2,62.9 76.2,62 76.8,62C77.4,62 78.6,62.8 78.7,63.5C78.8,64.2 78,65.6 77.5,66C77,66.4 75.9,66.2 75.5,65.8C75.1,65.4 74.8,64.1 75,63.5Z" fill="#e0532b"/>
<path d="M-5,71.8C-5,71.8 7.8,72.8 13,73.2C18.2,73.7 21.8,73.8 26.2,74.5C30.6,75.2 34.9,76.7 39.3,77.1C43.7,77.5 48.8,76.9 52.5,77.1C56.2,77.3 59.1,77.5 61.7,78.4C64.3,79.3 66.7,80.4 68.2,82.4C69.7,84.4 69.8,87.6 70.9,90.2C72,92.8 73.9,95.5 74.8,98.1C75.7,100.7 76.3,103.4 76.1,106C75.9,108.6 74.2,111.1 73.5,113.9C72.8,116.8 72.6,119.8 72.2,123.1C71.8,126.4 71.1,130.5 70.9,133.6C70.7,136.7 70.8,137.6 70.9,141.5C71,145.4 71.5,157 71.5,157C71.5,157 -5,157 -5,157C-5,157 -5,71.8 -5,71.8Z" fill="#eda02e"/>
<path d="M167.6,73C168,71.3 168.2,70.7 170,70C171.8,69.3 178.5,69 178.5,69C178.5,69 178.5,87 178.5,87C178.5,87 171.8,87.2 170,86C168.2,84.8 167.9,82.2 167.5,80C167.1,77.8 167.2,74.7 167.6,73Z" fill="#eda02e"/>
<path d="M127,137.2C128.7,130.9 134.6,124.1 139.7,119.4C144.8,114.7 151,111.5 157.5,109.2C164,106.9 178.5,105.4 178.5,105.4C178.5,105.4 178.5,157 178.5,157C178.5,157 129.5,157 129.5,157C129.5,157 125.3,143.5 127,137.2Z" fill="#eda02e"/>
<path d="M-5,85C-5,85 7.8,83.8 13,83.7C18.2,83.6 22.2,84 26.2,84.3C30.1,84.6 33.6,85 36.7,85.6C39.8,86.1 42.2,87 44.6,87.6C47,88.1 48.7,88.2 51.1,88.9C53.5,89.6 56.4,90.7 59,91.6C61.6,92.5 64.7,93.1 66.9,94.2C69.1,95.3 71.1,96.3 72.2,98.1C73.3,99.8 73.6,102.5 73.5,104.7C73.4,106.9 72.8,109.1 71.5,111.3C70.2,113.5 67.7,115.6 65.6,117.8C63.5,120 60.3,122 59,124.4C57.7,126.8 58.1,129.5 57.7,132.3C57.3,135.2 56.8,137.4 56.4,141.5C56,145.6 55.1,157 55.1,157C55.1,157 -5,157 -5,157C-5,157 -5,85 -5,85Z" fill="#e0532b"/>
<path d="M141,134.6C142.3,128.8 148,124.9 152.4,121.9C156.8,118.9 163.2,117.8 167.6,116.8C171.9,115.8 178.5,115.6 178.5,115.6C178.5,115.6 178.5,157 178.5,157C178.5,157 144.8,157 144.8,157C144.8,157 139.7,140.4 141,134.6Z" fill="#e0532b"/>
<path d="M19.6,107.3C19.8,104.3 21.6,101.9 23.6,100.1C25.6,98.2 28.8,96.6 31.4,96.2C34,95.8 37.5,96.5 39.3,97.5C41,98.5 41.2,100 41.9,102.1C42.6,104.2 42.6,107.4 43.3,110C44,112.6 45.7,115.2 45.9,117.8C46.1,120.4 45.9,124.4 44.6,125.7C43.3,127 40.6,126.1 38,125.7C35.4,125.3 31.4,124.4 28.8,123.1C26.2,121.8 23.7,120.4 22.2,117.8C20.7,115.2 19.4,110.2 19.6,107.3Z" fill="#b13129"/>
<path d="M57.7,100.8C58.2,98.8 60.2,96.6 61.7,95.5C63.2,94.4 65.4,93.8 66.9,94.2C68.4,94.6 70.5,96.1 70.9,98.1C71.3,100.1 70.6,104.2 69.5,106C68.4,107.8 66,108.4 64.3,108.6C62.5,108.8 60.1,108.6 59,107.3C57.9,106 57.2,102.8 57.7,100.8Z" fill="#b13129"/>
<path d="M157.5,132.1C157.9,129.2 161.6,126.2 165.1,124.5C168.6,122.8 178.5,121.9 178.5,121.9C178.5,121.9 178.5,144.8 178.5,144.8C178.5,144.8 166.1,144.3 162.6,142.2C159.1,140.1 157.1,135 157.5,132.1Z" fill="#b13129"/>
<path d="M24.9,107.3C25.2,104.9 27.1,103.2 28.8,102.1C30.6,101 33.4,100.4 35.4,100.8C37.4,101.2 39.5,102.7 40.6,104.7C41.7,106.7 42.1,110 41.9,112.6C41.7,115.2 40.8,119 39.3,120.5C37.8,122 34.8,122.5 32.7,121.8C30.6,121.1 28.1,118.9 26.8,116.5C25.5,114.1 24.6,109.7 24.9,107.3Z" fill="#761d1d"/>
<path d="M61.7,101.5C61.9,100.7 63.1,99.5 64,99.4C64.9,99.3 66.5,100.1 66.9,101C67.3,101.9 67.2,104.1 66.5,104.7C65.8,105.3 63.8,105 63,104.5C62.2,104 61.5,102.3 61.7,101.5Z" fill="#761d1d"/>
<path d="M27.5,108.6C27.9,106.6 29.6,105.3 31.4,104.7C33.1,104.1 36.5,103.8 38,104.7C39.5,105.6 40.4,107.8 40.6,110C40.8,112.2 40.4,116.2 39.3,117.8C38.2,119.4 35.9,120 34.1,119.8C32.4,119.6 29.9,118.4 28.8,116.5C27.7,114.6 27.1,110.6 27.5,108.6Z" fill="#3d1515"/>
<use href="#mlines" transform="translate(-1.5,-2)"/>
</g>
<rect x="-1" y="-1" width="67.8" height="21.2" fill="#fff" fill-opacity="0.9"/>
<text x="2.4" y="14.9" font-size="14.9" textLength="59.51" lengthAdjust="spacingAndGlyphs" fill="#111">e) CMCC</text>
</g>
<rect x="-1.8" y="-1.8" width="177" height="155.6" fill="none" stroke="#e8602a" stroke-width="3.6"/>
</g>
<g transform="translate(455.2,202.1)">
<g clip-path="url(#pclipf)">
<g transform="scale(0.9994,1)">
<rect x="-1" y="-1" width="175.5" height="154" fill="#fbf3b1"/>
<path d="M-5,59.7C-5,59.7 8.9,58.7 15.2,59.7C21.5,60.8 27.1,63.9 33,66C38.9,68.1 46.1,71.3 50.8,72.4C55.5,73.5 58.5,75.2 61,72.4C63.5,69.7 63.5,59.1 66,55.9C68.5,52.7 71.1,53.7 76.2,53.3C81.3,52.9 90.6,52.4 96.5,53.3C102.4,54.1 108.6,56.8 111.8,58.4C115,60 116.4,61.4 116.8,63.5C117.2,65.6 116.1,69 114.3,71.1C112.5,73.2 107.7,72.8 106,76C104.3,79.2 104.7,85.2 104,90C103.3,94.8 103,100.3 102,105C101,109.7 99,113 98,118C97,123 96.2,128.5 96,135C95.8,141.5 97,157 97,157C97,157 -5,157 -5,157C-5,157 -5,59.7 -5,59.7Z" fill="#f9df7b"/>
<path d="M64,76C65,74.8 68.3,74.8 72,75C75.7,75.2 81.7,76.3 86,77C90.3,77.7 95,77.8 98,79C101,80.2 103.7,81.8 104,84C104.3,86.2 102,90 100,92C98,94 95,96 92,96C89,96 85.3,93.3 82,92C78.7,90.7 74.7,89.7 72,88C69.3,86.3 67.3,84 66,82C64.7,80 63,77.2 64,76Z" fill="#fbf3b1"/>
<path d="M105.4,66C105.2,64.7 106.9,62.6 108,62.2C109.1,61.8 111.2,62.6 112,63.5C112.8,64.4 113.5,66.4 113,67.5C112.5,68.6 110.3,70.2 109,69.9C107.7,69.7 105.6,67.3 105.4,66Z" fill="#fbf3b1"/>
<path d="M178.5,44.5C178.5,44.5 163.1,45.1 157.5,48.3C151.9,51.5 149,58 144.8,63.5C140.6,69 136.8,75.8 132.1,81.3C127.4,86.8 121,91.8 116.8,96.5C112.6,101.2 109.2,105 106.7,109.2C104.2,113.4 102.7,117.2 101.6,121.9C100.5,126.6 100.3,131.3 100.3,137.2C100.3,143 101.6,157 101.6,157C101.6,157 178.5,157 178.5,157C178.5,157 178.5,44.5 178.5,44.5Z" fill="#f9df7b"/>
<path d="M82.6,67C82.3,65.7 83.8,64.1 85,63.5C86.2,62.9 88.5,62.8 90,63.2C91.5,63.6 93.6,64.8 94,66C94.4,67.2 93.7,69.7 92.5,70.5C91.3,71.3 88.7,71.7 87,71.1C85.3,70.5 82.9,68.3 82.6,67Z" fill="#eda02e"/>
<path d="M74.5,62.5C74.5,62.1 75.2,61.5 75.5,61.5C75.8,61.5 76.5,62.4 76.5,62.8C76.5,63.2 75.6,63.8 75.3,63.8C75,63.8 74.5,62.9 74.5,62.5Z" fill="#eda02e"/>
<path d="M-5,71.1C-5,71.1 9.3,72 15.2,72.4C21.1,72.8 25.8,72.7 30.5,73.7C35.2,74.8 39.6,77.2 43.2,78.7C46.9,80.2 50.2,79.8 52.4,82.4C54.6,85 54.4,91.8 56.3,94.2C58.2,96.6 61.1,96.3 64,97C66.8,97.7 70.1,97.9 73.4,98.1C76.7,98.3 81.2,97.8 84,98.1C86.8,98.4 88.8,98.6 90,100C91.2,101.4 91.6,104 91.4,106.7C91.2,109.4 90.2,114.8 89,116C87.8,117.2 85.7,114.8 84,114C82.3,113.2 80.8,111.8 78.6,111.3C76.4,110.8 73,110.2 70.8,111.3C68.6,112.4 67,115.4 65.5,117.8C64,120.2 62.9,122.6 61.6,125.7C60.3,128.8 58.5,132.7 57.6,136.2C56.7,139.7 56.3,143.2 56.3,146.7C56.3,150.2 57.6,157 57.6,157C57.6,157 -5,157 -5,157C-5,157 -5,71.1 -5,71.1Z" fill="#eda02e"/>
<path d="M121.9,137.2C122.7,130.9 126.1,124.9 129.5,119.4C132.9,113.9 138.8,109.2 142.2,104.1C145.6,99 148.2,94.4 149.9,88.9C151.6,83.4 150.7,76.2 152.4,71.1C154.1,66 155.7,61.4 160,58.4C164.3,55.4 178.5,53.3 178.5,53.3C178.5,53.3 178.5,157 178.5,157C178.5,157 124.5,157 124.5,157C124.5,157 121.1,143.5 121.9,137.2Z" fill="#eda02e"/>
<path d="M-5,94.2C-5,94.2 6.2,94.2 10.3,94.8C14.4,95.4 17.1,98.2 19.5,98.1C21.9,98 23.5,96 24.8,94.2C26.1,92.5 25.9,89.2 27.4,87.6C28.9,85.9 31.6,85.1 34,84.3C36.4,83.5 39.4,82.9 41.8,83C44.2,83.1 47.1,83.6 48.4,85C49.7,86.4 49.9,89.4 49.7,91.6C49.5,93.8 47.8,95.9 47.1,98.1C46.5,100.3 45.6,102.5 45.8,104.7C46,106.9 47.5,108.7 48.4,111.3C49.3,113.9 50.3,117.2 51,120.5C51.7,123.8 51.7,127.9 52.4,131C53.1,134.1 54.6,136.3 55,138.9C55.4,141.5 54.8,143.7 55,146.7C55.2,149.7 56.3,157 56.3,157C56.3,157 -5,157 -5,157C-5,157 -5,94.2 -5,94.2Z" fill="#e0532b"/>
<path d="M55,106C55.3,104.6 56.3,102 57.6,100.8C58.9,99.6 60.9,98.8 62.9,98.8C64.9,98.8 68.2,99.8 69.5,100.8C70.8,101.8 71.2,103.4 70.8,104.7C70.3,106 68.6,107.5 66.8,108.6C65,109.7 62.1,111.2 60.2,111.3C58.3,111.4 56.5,110.2 55.6,109.3C54.7,108.4 54.7,107.4 55,106Z" fill="#e0532b"/>
<path d="M84,102C84.2,101.2 85.2,100.4 86,100.5C86.8,100.6 88.3,101.7 88.5,102.5C88.7,103.3 87.7,105.1 87,105.5C86.3,105.9 85,105.6 84.5,105C84,104.4 83.8,102.8 84,102Z" fill="#e0532b"/>
<path d="M138.4,134.6C139,127.5 142.1,119.8 144.8,114.3C147.6,108.8 152.4,106.2 154.9,101.6C157.4,96.9 158.7,91.1 160,86.4C161.3,81.8 159.5,76.7 162.6,73.7C165.7,70.7 178.5,68.6 178.5,68.6C178.5,68.6 178.5,157 178.5,157C178.5,157 141,157 141,157C141,157 137.8,141.7 138.4,134.6Z" fill="#e0532b"/>
<path d="M24.8,107.3C24.8,104.5 25,102.5 26.1,100.8C27.2,99 29.3,98.3 31.3,96.8C33.3,95.3 35.9,93.6 37.9,91.6C39.9,89.6 41.5,85.7 43.2,85C45,84.3 48,86.1 48.4,87.6C48.8,89.1 46.7,91.8 45.8,94.2C44.9,96.6 43.9,99.2 43.2,102.1C42.5,104.9 42,108.2 41.8,111.3C41.6,114.4 42.4,118.3 41.8,120.5C41.1,122.7 39.9,124 37.9,124.4C35.9,124.8 32,124.2 30,123.1C28,122 27,120.4 26.1,117.8C25.2,115.2 24.8,110.1 24.8,107.3Z" fill="#b13129"/>
<path d="M32,140.8C32,140.1 33.3,138.8 34,138.8C34.7,138.8 36,140.1 36,140.8C36,141.5 34.7,142.8 34,142.8C33.3,142.8 32,141.5 32,140.8Z" fill="#b13129"/>
<path d="M149.9,124.5C150.8,121.5 154.6,116.8 157.5,114.3C160.4,111.8 164.1,110.5 167.6,109.2C171.1,107.9 178.5,106.7 178.5,106.7C178.5,106.7 178.5,142.2 178.5,142.2C178.5,142.2 166.9,138.9 162.6,137.2C158.2,135.5 154.5,134.2 152.4,132.1C150.3,130 149.1,127.5 149.9,124.5Z" fill="#b13129"/>
<path d="M27.3,110C27.8,107.4 28.9,104 30.5,102.4C32,100.8 34.9,100.4 36.6,100.4C38.4,100.4 40,100.6 41,102.4C42,104.2 42.3,108.2 42.5,111.3C42.7,114.4 43,118.7 42,121C41,123.3 38.5,124.7 36.6,125.2C34.7,125.7 32.4,125.2 30.8,124C29.2,122.8 27.9,120.3 27.3,118C26.7,115.7 26.8,112.6 27.3,110Z" fill="#761d1d"/>
<path d="M28.1,110C28.6,107.6 29.9,104.8 31.3,103.4C32.7,102 35.1,101.4 36.6,101.4C38.1,101.4 39.6,101.8 40.5,103.4C41.4,105.1 41.7,108.5 41.8,111.3C41.9,114.1 42.1,118.3 41.2,120.5C40.3,122.7 38.2,124 36.6,124.4C35,124.8 32.7,124.2 31.3,123.1C29.9,122 28.6,120 28.1,117.8C27.6,115.6 27.6,112.4 28.1,110Z" fill="#3d1515"/>
<use href="#mlines" transform="translate(-2.3,-2)"/>
</g>
<rect x="-1" y="-1" width="76.6" height="19.2" fill="#fff" fill-opacity="0.9"/>
<text x="2" y="14.3" font-size="14.9" textLength="65.78" lengthAdjust="spacingAndGlyphs" fill="#111">f) MeteoF</text>
</g>
<rect x="-1.8" y="-1.8" width="177" height="155.6" fill="none" stroke="#4a6fd0" stroke-width="3.6"/>
</g>
<g transform="translate(67.4,369.1)">
<g clip-path="url(#pclipg)">
<g transform="scale(0.9977,1)">
<rect x="-1" y="-1" width="175.5" height="154" fill="#fbf3b1"/>
<path d="M-5,68.6C-5,68.6 9.3,69.3 15.2,69.9C21.1,70.5 25.4,71.4 30.5,72.4C35.6,73.5 42.4,74.8 45.7,76.2C49,77.6 49.1,79.2 50.8,81.3C52.5,83.4 54.6,86.8 55.9,88.9C57.2,91 58.4,91.9 58.4,94C58.4,96.1 55.9,98.6 55.9,101.6C55.9,104.6 58.2,107.6 58.4,111.8C58.6,116 57.2,121.9 57.2,127C57.2,132.1 58.2,137.2 58.4,142.2C58.6,147.2 58.4,157 58.4,157C58.4,157 -5,157 -5,157C-5,157 -5,68.6 -5,68.6Z" fill="#f9df7b"/>
<path d="M71.1,99C72.4,97.3 77.9,96.5 81.3,94C84.7,91.5 87.2,86.3 91.4,83.8C95.6,81.2 103.7,78.3 106.7,78.7C109.7,79.1 109.2,83 109.2,86.4C109.2,89.8 108,94.8 106.7,99C105.4,103.2 103.7,108.4 101.6,111.8C99.5,115.2 97,119.4 94,119.4C91,119.4 87.2,114.3 83.8,111.8C80.4,109.2 75.7,106.1 73.7,104.1C71.7,102.1 69.8,100.7 71.1,99Z" fill="#f9df7b"/>
<path d="M71.5,60C71.9,58.8 73.6,57.5 75,57.2C76.4,57 79,57.5 80,58.5C81,59.5 81.8,61.8 81.3,63C80.8,64.2 78.5,65.8 77,66C75.5,66.2 73.4,65.5 72.5,64.5C71.6,63.5 71.1,61.2 71.5,60Z" fill="#f9df7b"/>
<path d="M178.5,50.8C178.5,50.8 166.9,52.1 162.6,54.6C158.2,57.1 155.4,61.5 152.4,66C149.4,70.5 145.7,76.2 144.8,81.3C144,86.4 146,92.3 147.3,96.5C148.6,100.7 153.2,103.7 152.4,106.7C151.6,109.7 145.6,111.8 142.2,114.3C138.8,116.8 134.2,118.1 132.1,121.9C130,125.7 129.5,131.3 129.5,137.2C129.5,143 132.1,157 132.1,157C132.1,157 178.5,157 178.5,157C178.5,157 178.5,50.8 178.5,50.8Z" fill="#f9df7b"/>
<path d="M167.6,74C167.8,72.3 168.7,71.7 170.5,71.1C172.3,70.5 178.5,70.5 178.5,70.5C178.5,70.5 178.5,82 178.5,82C178.5,82 171.3,82.6 169.5,81.3C167.7,80 167.4,75.7 167.6,74Z" fill="#eda02e"/>
<path d="M162.6,121.9C163.8,118.6 164.9,117.8 167.6,116.8C170.2,115.8 178.5,115.6 178.5,115.6C178.5,115.6 178.5,157 178.5,157C178.5,157 163.8,157 163.8,157C163.8,157 160.2,143 160,137.2C159.8,131.3 161.4,125.2 162.6,121.9Z" fill="#eda02e"/>
<path d="M-5,82.6C-5,82.6 7.2,83 12.3,83.9C17.4,84.8 21.1,86.4 25.5,87.9C29.9,89.4 35.8,91.1 38.6,93.1C41.5,95.1 41.6,97.5 42.6,99.7C43.6,101.9 43.5,104.3 44.5,106C45.5,107.7 47.7,108.3 48.5,110C49.3,111.7 49.8,114 49.5,116C49.2,118 47.8,119.7 47,122C46.2,124.3 45.7,127 45,130C44.3,133 43.5,135.5 43,140C42.5,144.5 42,157 42,157C42,157 -5,157 -5,157C-5,157 -5,82.6 -5,82.6Z" fill="#eda02e"/>
<path d="M18.9,141C19.4,138.8 21.1,135.4 23,134C24.9,132.6 27.6,132.4 30,132.6C32.4,132.8 36,133.3 37.3,135C38.6,136.7 38.2,140.6 38,143C37.8,145.4 37.8,148.3 36,149.6C34.2,150.8 29.7,150.9 27,150.5C24.3,150.1 21.4,148.6 20,147C18.6,145.4 18.4,143.2 18.9,141Z" fill="#f9df7b"/>
<path d="M-5,91.8C-5,91.8 3.8,91.8 7.1,92.5C10.4,93.2 11.9,94.6 15,95.8C18.1,97 22.4,98.9 25.5,99.7C28.6,100.5 31,100 33.4,100.4C35.8,100.8 38.6,100.9 39.9,102.3C41.2,103.7 41.3,106.7 41.3,108.9C41.3,111.1 41.4,113.8 39.9,115.5C38.4,117.2 34.9,118.5 32.1,119.4C29.3,120.3 26.2,119.8 22.9,120.7C19.6,121.6 15.6,123.2 12.3,124.7C9,126.2 6,128.8 3.1,129.9C0.2,131 -5,131.2 -5,131.2C-5,131.2 -5,91.8 -5,91.8Z" fill="#e0532b"/>
<path d="M-5,98.4C-5,98.4 1.8,98.2 4.5,99.7C7.2,101.2 9.7,105.4 11,107.6C12.3,109.8 12.7,110.9 12.3,112.9C11.9,114.9 9.9,118.1 8.4,119.4C6.9,120.7 5.3,120.5 3.1,120.7C0.9,120.9 -5,120.7 -5,120.7C-5,120.7 -5,98.4 -5,98.4Z" fill="#b13129"/>
<use href="#mlines" transform="translate(-0.8,-2)"/>
</g>
<rect x="-1" y="-1" width="70.1" height="20.9" fill="#fff" fill-opacity="0.9"/>
<text x="6.6" y="13.6" font-size="14.9" textLength="55.93" lengthAdjust="spacingAndGlyphs" fill="#111">g) NCEP</text>
</g>
<rect x="-1.8" y="-1.8" width="176.7" height="155.6" fill="none" stroke="#5a6068" stroke-width="3.6" clip-path="url(#gbclip)"/>
</g>
<g transform="translate(261.3,369.1)">
<g clip-path="url(#pcliph)">
<g transform="scale(0.9983,1)">
<rect x="-1" y="-1" width="175.5" height="154" fill="#fbf3b1"/>
<path d="M-5,68.6C-5,68.6 8.9,69.1 15.2,69.9C21.5,70.8 27.5,73.3 33,73.7C38.5,74.1 44.1,72.8 48.3,72.4C52.5,72 55,70.5 58.4,71.1C61.8,71.7 66,74.1 68.6,76.2C71.1,78.3 72,80.4 73.7,83.8C75.4,87.2 76.6,92.7 78.7,96.5C80.8,100.3 85.1,102.9 86.4,106.7C87.7,110.5 86.8,114.3 86.4,119.4C86,124.5 84.2,130.9 83.8,137.2C83.4,143.5 83.8,157 83.8,157C83.8,157 -5,157 -5,157C-5,157 -5,68.6 -5,68.6Z" fill="#f9df7b"/>
<path d="M69,63C69,61.1 70.3,59.2 72,58.4C73.7,57.6 77,57.6 79,58.4C81,59.2 83.5,61.1 83.8,63C84.1,64.9 83,68.8 81,69.9C79,71 74,70.7 72,69.5C70,68.3 69,64.8 69,63Z" fill="#f9df7b"/>
<path d="M178.5,57.1C178.5,57.1 166.5,61.5 162.5,63.7C158.5,65.9 157.1,67.6 154.7,70.2C152.3,72.8 150.3,76.3 148.1,79.4C145.9,82.5 143.2,85.5 141.5,88.6C139.8,91.7 138.9,94.7 137.6,97.8C136.3,100.9 135.3,104.8 133.6,107C131.8,109.2 129.9,110.1 127.1,111C124.3,111.9 120.1,111.6 116.6,112.3C113.1,113 108.6,113.6 106,114.9C103.4,116.2 102.1,117.6 100.8,120.2C99.5,122.8 98.8,125.3 98.2,130.7C97.6,136.1 96.8,157 96.8,157C96.8,157 178.5,157 178.5,157C178.5,157 178.5,57.1 178.5,57.1Z" fill="#f9df7b"/>
<path d="M-5,86.4C-5,86.4 9.3,88.7 15.2,88.9C21.1,89.1 26.6,88 30.5,87.6C34.4,87.2 36.2,86.9 38.7,86.6C41.2,86.3 43.5,85.5 45.3,85.9C47,86.3 48.3,87.6 49.2,89.2C50.1,90.8 50.1,94.5 50.5,95.8C50.9,97.1 50.9,97.8 52,98C53.1,98.2 54.9,97.5 57.1,97.1C59.3,96.7 62.4,95.4 65,95.8C67.6,96.2 71.2,98.2 72.9,99.7C74.7,101.2 76,102.8 75.5,105C75,107.2 72.6,110.5 70.2,112.9C67.8,115.3 62.5,117.2 61,119.4C59.5,121.6 60.8,123.8 61,126C61.2,128.2 62.2,130.4 62.4,132.6C62.6,134.8 63.1,137.1 62.4,139.1C61.7,141.1 59.1,141.4 58.4,144.4C57.7,147.4 58.4,157 58.4,157C58.4,157 -5,157 -5,157C-5,157 -5,86.4 -5,86.4Z" fill="#eda02e"/>
<path d="M158.6,79.4C159.2,77.9 159.6,75.6 162.5,74.2C165.4,72.8 178.5,70.2 178.5,70.2C178.5,70.2 178.5,92.6 178.5,92.6C178.5,92.6 168.5,88.8 165.2,87.3C161.9,85.8 159.7,84.7 158.6,83.4C157.5,82.1 157.9,80.9 158.6,79.4Z" fill="#eda02e"/>
<path d="M127.1,130.7C127.5,127.8 133,127.2 136.3,125.4C139.6,123.7 143.1,122.4 146.8,120.2C150.5,118 153.3,114.9 158.6,112.3C163.9,109.7 178.5,104.4 178.5,104.4C178.5,104.4 178.5,157 178.5,157C178.5,157 142.8,157 142.8,157C142.8,157 136.2,146.9 133.6,142.5C131,138.1 126.6,133.5 127.1,130.7Z" fill="#eda02e"/>
<path d="M-5,101.6C-5,101.6 7.6,102.7 12.7,102.9C17.8,103.1 21.1,103.2 25.4,102.9C29.7,102.6 35.7,100.9 38.7,101C41.7,101.1 42.5,102.2 44,103.7C45.5,105.2 47.2,106.9 47.9,110.2C48.5,113.5 47.7,119.9 47.9,123.4C48.1,126.9 48.6,128.8 49.2,131.2C49.9,133.6 51.6,135.6 51.8,137.8C52,140 51.6,142.9 50.5,144.4C49.4,145.9 46.4,144.9 45.3,147C44.2,149.1 44,157 44,157C44,157 -5,157 -5,157C-5,157 -5,101.6 -5,101.6Z" fill="#e0532b"/>
<path d="M54.5,107.6C55,105.2 56.6,100.2 58.4,98.4C60.1,96.7 62.8,96.7 65,97.1C67.2,97.5 70.1,99.5 71.6,101C73.1,102.5 74.7,104.1 74.2,106.3C73.8,108.5 71.1,112.5 68.9,114.2C66.7,116 63.3,117 61,116.8C58.7,116.6 56.2,114.4 55.1,112.9C54,111.4 54,110 54.5,107.6Z" fill="#e0532b"/>
<path d="M153.3,135.9C153.3,133.5 155.3,131.6 157.3,129.4C159.3,127.2 161.7,124.5 165.2,122.8C168.7,121 178.5,118.9 178.5,118.9C178.5,118.9 178.5,157 178.5,157C178.5,157 172.6,151.3 169.1,149.1C165.6,146.9 159.9,146 157.3,143.8C154.7,141.6 153.3,138.3 153.3,135.9Z" fill="#e0532b"/>
<path d="M57.7,108.9C57.7,107.4 58.5,104.7 59.7,103.7C60.9,102.7 63.7,102.1 65,103C66.3,103.9 67.6,107.2 67.6,108.9C67.6,110.6 66.3,112.2 65,112.9C63.7,113.6 60.9,113.6 59.7,112.9C58.5,112.2 57.7,110.4 57.7,108.9Z" fill="#b13129"/>
<path d="M33,116C33,115.2 34.4,114.1 35,114.3C35.6,114.5 36.8,116.2 36.8,117C36.8,117.8 35.6,119.6 35,119.4C34.4,119.2 33,116.8 33,116Z" fill="#b13129"/>
<path d="M43.2,137C43.5,135.9 44.6,134.4 45.5,134.6C46.4,134.8 48,136.7 48.3,138C48.5,139.3 47.7,141.7 47,142.2C46.3,142.7 44.6,141.9 44,141C43.4,140.1 43,138.1 43.2,137Z" fill="#b13129"/>
<use href="#mlines" transform="translate(-1.7,-1.6)"/>
</g>
<rect x="-1" y="-1" width="68.3" height="19.2" fill="#fff" fill-opacity="0.9"/>
<text x="2.6" y="14.3" font-size="14.9" textLength="53.80" lengthAdjust="spacingAndGlyphs" fill="#111">h) DWD</text>
</g>
<rect x="-1.8" y="-1.8" width="176.8" height="155.6" fill="none" stroke="#7a2010" stroke-width="3.6"/>
</g>
<g transform="translate(455.5,369.3)">
<g clip-path="url(#pclipi)">
<g transform="scale(0.9971,1)">
<rect x="-1" y="-1" width="175.5" height="154" fill="#fbf3b1"/>
<path d="M-5,59.7C-5,59.7 12.7,61.2 20.3,62.2C27.9,63.2 34.7,64.9 40.6,66C46.5,67.1 52.1,69.4 55.9,68.6C59.7,67.8 61,63.1 63.5,61C66,58.9 67.7,56.3 71.1,55.9C74.5,55.5 79.6,57.3 83.8,58.4C88,59.5 93.5,60.5 96.5,62.2C99.5,63.9 100.3,66.5 101.6,68.6C102.8,70.7 103.3,72.8 104,75C104.7,77.2 105.3,79.5 106,82C106.7,84.5 108.3,87 108,90C107.7,93 105.3,97 104,100C102.7,103 101,104.7 100,108C99,111.3 98.7,115.5 98,120C97.3,124.5 96.2,128.8 96,135C95.8,141.2 97,157 97,157C97,157 -5,157 -5,157C-5,157 -5,59.7 -5,59.7Z" fill="#f9df7b"/>
<path d="M62,76C63.2,74.4 68.8,76.2 72,76.2C75.2,76.2 77.6,76.5 81.3,76.2C85,75.9 90.9,74.2 94,74.5C97.1,74.8 98.7,76.1 100,78C101.3,79.9 102.3,83.7 102,86C101.7,88.3 100.3,90.3 98,92C95.7,93.7 91,95.3 88,96C85,96.7 82.7,96.7 80,96C77.3,95.3 74.5,93.7 72,92C69.5,90.3 66.7,88.7 65,86C63.3,83.3 60.8,77.6 62,76Z" fill="#fbf3b1"/>
<path d="M178.5,55.9C178.5,55.9 162.2,58.6 157.5,61C152.8,63.4 151.3,66.8 150,70C148.7,73.2 149.6,76.3 149.9,80C150.2,83.7 152,87.8 152,92C152,96.2 151,100.7 150,105C149,109.3 147.7,114.7 146,118C144.3,121.3 142.7,124 140,125C137.3,126 133.7,124.2 130,124C126.3,123.8 121.7,123.7 118,124C114.3,124.3 110.7,124.7 108,126C105.3,127.3 103.3,129.3 102,132C100.7,134.7 100.2,137.8 100,142C99.8,146.2 101,157 101,157C101,157 178.5,157 178.5,157C178.5,157 178.5,55.9 178.5,55.9Z" fill="#f9df7b"/>
<path d="M-5,87.4C-5,87.4 4.5,87.2 7.4,86.1C10.3,85 10.6,81.9 12.6,80.8C14.6,79.7 15.9,79.5 19.2,79.5C22.5,79.5 29.3,79.9 32.4,80.8C35.5,81.7 36.5,82.6 37.6,84.8C38.7,87 38.7,90.3 38.9,94C39.1,97.7 38.7,102.3 38.9,107.1C39.1,111.9 39.5,119 40.2,122.9C40.9,126.9 41.6,128.6 42.9,130.8C44.2,133 47.5,133.8 48.1,136C48.8,138.2 46.6,140.4 46.8,143.9C47,147.4 49.4,157 49.4,157C49.4,157 -5,157 -5,157C-5,157 -5,87.4 -5,87.4Z" fill="#eda02e"/>
<path d="M49.4,96.6C49.6,94.4 50,92.7 50.7,91.4C51.4,90.1 52.7,88.3 53.4,88.7C54.1,89.1 53.6,92.5 54.7,94C55.8,95.5 58,97 60,97.9C62,98.8 65.2,98.3 66.5,99.2C67.8,100.1 67.8,101.5 67.8,103.2C67.8,105 67.2,108 66.5,109.7C65.8,111.5 65,113.2 63.9,113.7C62.8,114.2 61.1,112 60,112.4C58.9,112.8 58.6,115.4 57.3,116.3C56,117.2 53.4,118.2 52.1,117.6C50.8,116.9 49.9,114.6 49.4,112.4C48.9,110.2 49.4,107.1 49.4,104.5C49.4,101.9 49.2,98.8 49.4,96.6Z" fill="#eda02e"/>
<path d="M76.5,105.3C76.5,104.3 78.5,102.3 79.5,102.3C80.5,102.3 82.5,104.3 82.5,105.3C82.5,106.3 80.5,108.3 79.5,108.3C78.5,108.3 76.5,106.3 76.5,105.3Z" fill="#eda02e"/>
<path d="M170.5,75C171.8,73.9 178.5,73.5 178.5,73.5C178.5,73.5 178.5,81.3 178.5,81.3C178.5,81.3 172.3,81 171,80C169.7,79 169.2,76.1 170.5,75Z" fill="#eda02e"/>
<path d="M149.9,127C151.6,123.6 154.6,121.1 157.5,119.4C160.4,117.7 164.1,117.7 167.6,116.8C171.1,115.9 178.5,114.3 178.5,114.3C178.5,114.3 178.5,157 178.5,157C178.5,157 152.4,157 152.4,157C152.4,157 147.7,144.7 147.3,139.7C146.9,134.7 148.2,130.4 149.9,127Z" fill="#eda02e"/>
<path d="M-5,97.9C-5,97.9 3.2,101.9 6.1,101.9C9,101.9 10.4,99.2 12.6,97.9C14.8,96.6 17,95.5 19.2,94C21.4,92.5 23.6,89.8 25.8,88.7C28,87.6 30.9,87 32.4,87.4C33.9,87.9 34.4,89.2 35,91.4C35.6,93.6 36.3,96.9 36.3,100.6C36.3,104.3 35.4,110 35,113.7C34.6,117.4 34.6,120.5 33.7,122.9C32.8,125.3 31.7,126.8 29.7,128.1C27.7,129.4 23.6,129.5 21.8,130.8C20.1,132.1 19.9,133.8 19.2,136C18.5,138.2 18.3,140.4 17.9,143.9C17.5,147.4 16.6,157 16.6,157C16.6,157 -5,157 -5,157C-5,157 -5,97.9 -5,97.9Z" fill="#e0532b"/>
<path d="M50.7,109.7C50.7,108.4 52.9,105.8 54,105.8C55.1,105.8 57.3,108.4 57.3,109.7C57.3,111 55.1,113.7 54,113.7C52.9,113.7 50.7,111 50.7,109.7Z" fill="#e0532b"/>
<path d="M19.2,105.8C19.9,104 21.7,102.8 23.2,101.9C24.7,101 27.1,100.2 28.4,100.6C29.7,101 30.5,102.5 31.2,104.5C31.9,106.5 32.4,110 32.4,112.4C32.4,114.8 32.1,117.6 31.2,119C30.3,120.4 28.7,121.1 27.1,120.9C25.5,120.7 23.1,119 21.8,117.6C20.5,116.2 19.6,114.4 19.2,112.4C18.8,110.4 18.5,107.5 19.2,105.8Z" fill="#b13129"/>
<path d="M23.8,108.4C24,106.8 24.9,104.5 25.8,103.8C26.7,103.1 28.3,103.5 29.1,104.5C29.9,105.5 30.3,107.7 30.4,109.7C30.5,111.7 30.4,115 29.7,116.3C29,117.6 27.3,118 26.4,117.6C25.5,117.2 24.9,115.2 24.5,113.7C24.1,112.2 23.6,110.1 23.8,108.4Z" fill="#761d1d"/>
<use href="#mlines" transform="translate(-2.6,-2.2)"/>
<rect x="40.4" y="50" width="109.1" height="81.4" fill="none" stroke="#1f2fe6" stroke-width="2" stroke-dasharray="7.4,6.6" stroke-dashoffset="-1"/>
</g>
<rect x="-1" y="-1" width="70.4" height="21" fill="#fff" fill-opacity="0.9"/>
<text x="7" y="15.3" font-size="14.9" textLength="50.95" lengthAdjust="spacingAndGlyphs" fill="#111">i) GPCP</text>
</g>
<rect x="-2" y="-2" width="177" height="156" fill="none" stroke="#000000" stroke-width="4"/>
</g>
<g transform="translate(65.8,534.3)">
<g clip-path="url(#pclipj)">
<g transform="scale(1.0029,1)">
<rect x="-1" y="-1" width="175.5" height="154" fill="#fbf3b1"/>
<path d="M-5,58.4C-5,58.4 8.9,59.9 15.2,61C21.5,62.1 27.1,63.8 33,64.8C38.9,65.8 46.1,67.3 50.8,67.3C55.5,67.3 58.9,66.3 61,64.8C63.1,63.3 61.8,60.1 63.5,58.4C65.2,56.7 69,56.3 71.1,54.6C73.2,52.9 74.1,50.2 76.2,48.3C78.3,46.4 82.1,42.4 83.8,43.2C85.5,44 84.7,50.3 86.4,53.3C88.1,56.3 90.6,59.3 94,61C97.4,62.7 103.7,61.8 106.7,63.5C109.7,65.2 111.9,68.7 111.8,71.1C111.7,73.5 107.3,74.8 106,78C104.7,81.2 104.7,85.5 104,90C103.3,94.5 103,100.3 102,105C101,109.7 99,113 98,118C97,123 96.2,128.5 96,135C95.8,141.5 97,157 97,157C97,157 -5,157 -5,157C-5,157 -5,58.4 -5,58.4Z" fill="#f9df7b"/>
<path d="M79,42C79.2,41.1 80.2,39.6 81,39.5C81.8,39.4 83.3,40.4 83.5,41.5C83.7,42.6 82.7,45.4 82,46C81.3,46.6 80,45.7 79.5,45C79,44.3 78.8,42.9 79,42Z" fill="#f9df7b"/>
<path d="M68,78C69,76.5 72.5,76.9 76,77C79.5,77.1 85.2,78.2 88.9,78.7C92.6,79.2 96.2,78.5 98,80C99.8,81.5 100.3,85.5 100,88C99.7,90.5 98,93.7 96,95C94,96.3 91,96.5 88,96C85,95.5 81,93.7 78,92C75,90.3 71.7,88.3 70,86C68.3,83.7 67,79.5 68,78Z" fill="#fbf3b1"/>
<path d="M66,120C66,116.3 69.7,113.7 72,112C74.3,110.3 77,110 80,110C83,110 87.3,110.7 90,112C92.7,113.3 94.8,114.7 96,118C97.2,121.3 97.3,128 97,132C96.7,136 95.8,139.7 94,142C92.2,144.3 88.7,146 86,146C83.3,146 80.3,144 78,142C75.7,140 74,137.7 72,134C70,130.3 66,123.7 66,120Z" fill="#fbf3b1"/>
<path d="M178.5,58.4C178.5,58.4 159.7,64.8 152.4,68.6C145.1,72.4 140.1,77.1 134.6,81.3C129.1,85.5 123.6,90.2 119.4,94C115.2,97.8 111.8,100.3 109.2,104.1C106.7,107.9 105.4,112.1 104.1,116.8C102.8,121.5 101.6,125.4 101.6,132.1C101.6,138.8 104.1,157 104.1,157C104.1,157 178.5,157 178.5,157C178.5,157 178.5,58.4 178.5,58.4Z" fill="#f9df7b"/>
<path d="M120,100C123.3,97.3 128,96.8 132,96C136,95.2 140.3,94.7 144,95C147.7,95.3 151.8,95.8 154,98C156.2,100.2 157,104.3 157,108C157,111.7 155.8,116.7 154,120C152.2,123.3 149.7,126 146,128C142.3,130 137,131.7 132,132C127,132.3 119.7,131.3 116,130C112.3,128.7 110.7,127 110,124C109.3,121 110.3,116 112,112C113.7,108 116.7,102.7 120,100Z" fill="#fbf3b1"/>
<path d="M-5,80.3C-5,80.3 7.4,79.3 12.5,79C17.6,78.7 21.3,78.3 25.7,78.3C30.1,78.3 34.9,78.2 38.8,79C42.7,79.8 46.4,82.7 49.3,82.9C52.1,83.1 53.5,80.5 55.9,80.3C58.3,80.1 61.6,80.5 63.8,81.6C66,82.7 67.9,84.6 69,86.8C70.1,89 69.7,92.1 70.4,94.7C71.1,97.3 73,100.4 73,102.6C73,104.8 72.2,105.5 70.4,107.9C68.6,110.3 64.1,116 61.2,118.4C58.4,120.8 55.3,120.5 53.3,122.3C51.3,124 50.6,126.1 49.3,128.9C48,131.8 45.3,136.6 45.4,139.4C45.5,142.2 48.2,145.1 50,146C51.8,146.9 54,145.3 56,145C58,144.7 59.7,143.8 62,144C64.3,144.2 68.3,143.8 70,146C71.7,148.2 72,157 72,157C72,157 -5,157 -5,157C-5,157 -5,80.3 -5,80.3Z" fill="#eda02e"/>
<path d="M69,60C69.2,58.8 70.7,57 72,56.5C73.3,56 75.8,56.2 77,57C78.2,57.8 79.3,59.8 79,61C78.7,62.2 76.4,63.6 75,64C73.6,64.4 71.5,64.2 70.5,63.5C69.5,62.8 68.8,61.2 69,60Z" fill="#eda02e"/>
<path d="M78.2,102.5C78.5,101.7 80.2,100.2 81.5,100C82.8,99.8 85.5,100.6 86.1,101.5C86.7,102.4 86.1,104.6 85,105.2C83.9,105.8 80.6,105.5 79.5,105C78.4,104.5 77.9,103.3 78.2,102.5Z" fill="#eda02e"/>
<path d="M147.3,132.1C148.8,128.7 151.9,124.5 154.9,121.9C157.9,119.4 161.2,117.8 165.1,116.8C169,115.8 178.5,115.6 178.5,115.6C178.5,115.6 178.5,157 178.5,157C178.5,157 149.9,157 149.9,157C149.9,157 146.4,146.3 146,142.2C145.6,138 145.8,135.5 147.3,132.1Z" fill="#eda02e"/>
<path d="M16.7,98.8C17.9,97.5 20.8,95.8 23.3,94.5C25.9,93.2 29.3,91.9 32,90.8C34.7,89.7 37.8,87.8 39.4,87.9C41,88 41.1,90.2 41.5,91.5C41.9,92.8 41.8,94.2 42,96C42.2,97.8 43.1,99.7 43,102C42.9,104.3 42,107.3 41.5,110C41,112.7 40.1,115.5 40,118C39.9,120.5 40.7,122.7 41,125C41.3,127.3 42.1,130 42,132C41.9,134 40.7,135.3 40.1,136.8C39.5,138.3 39.6,140.3 38.6,141.2C37.6,142 35.3,142.4 34.2,141.9C33.1,141.4 32.8,139.6 32.1,138.3C31.4,137 30.8,135.4 29.9,133.9C29,132.4 28.4,131.2 26.9,129.5C25.4,127.8 22.6,125.9 21.1,123.7C19.7,121.5 19.2,118.2 18.2,116.4C17.2,114.6 15.4,114.2 15.3,112.7C15.2,111.2 17.3,109.3 17.4,107.6C17.5,105.9 16.1,104 16,102.5C15.9,101 15.5,100.1 16.7,98.8Z" fill="#e0532b"/>
<path d="M-5,112C-5,112 0.8,111.1 3,112C5.2,112.9 7.7,116.1 8,117.5C8.3,118.9 7,119.9 5,120.5C3,121.1 -5,121 -5,121C-5,121 -5,112 -5,112Z" fill="#e0532b"/>
<path d="M-5,128.8C-5,128.8 3.8,127.8 6,128C8.2,128.2 8.3,129 10,130C11.7,131 13.8,133 16,133.9C18.2,134.8 22,134.5 23.3,135.3C24.6,136.2 24.6,138 24,139C23.4,140 21.3,141.5 19.6,141.2C17.9,140.9 15.3,137.4 14,137C12.7,136.6 11.7,137.7 12,139C12.3,140.3 14.5,143.4 16,145C17.5,146.6 19.5,146.5 21,148.5C22.5,150.5 25,157 25,157C25,157 -5,157 -5,157C-5,157 -5,128.8 -5,128.8Z" fill="#e0532b"/>
<path d="M54.6,102.6C55.8,100.8 57.9,97.7 59.9,97.3C61.9,96.9 64.9,98.7 66.4,100C67.9,101.3 69.2,102.8 69,105.2C68.8,107.6 66.8,112.2 65.1,114.4C63.3,116.6 60.5,118.2 58.5,118.4C56.5,118.6 54.3,117.5 53.3,115.7C52.3,114 52.4,110.1 52.6,107.9C52.8,105.7 53.4,104.4 54.6,102.6Z" fill="#e0532b"/>
<path d="M72,60.5C72.2,59.9 73.2,58.8 74,58.6C74.8,58.4 76.7,58.9 77,59.5C77.3,60.1 76.7,61.6 76,62C75.3,62.4 73.7,62.2 73,62C72.3,61.8 71.8,61.1 72,60.5Z" fill="#e0532b"/>
<path d="M79.6,117C79.6,116.3 80.8,115.6 81.5,115.7C82.2,115.8 83.5,116.8 83.5,117.5C83.5,118.2 82.2,119.8 81.5,119.7C80.8,119.6 79.6,117.7 79.6,117Z" fill="#e0532b"/>
<path d="M169.5,136C170.9,134.6 178.5,134.6 178.5,134.6C178.5,134.6 178.5,144.8 178.5,144.8C178.5,144.8 171.5,144.5 170,143C168.5,141.5 168.1,137.4 169.5,136Z" fill="#e0532b"/>
<path d="M26.9,106.1C27.4,104.6 28.7,104 29.9,103.2C31.1,102.4 32.9,101.5 34.2,101C35.6,100.5 36.9,99.7 38,100C39.1,100.3 40.7,101.3 41,103C41.3,104.7 40.7,107.8 40,110C39.3,112.2 37.3,113.7 37,116C36.7,118.3 37.3,122 38,124C38.7,126 41,126.9 41,128C41,129.1 39.3,130.2 38,130.5C36.7,130.8 34.6,130.6 33,129.5C31.4,128.4 28.9,125.8 28.4,124C27.9,122.2 30.2,120.5 30,118.5C29.8,116.5 27.5,114.1 27,112C26.5,109.9 26.4,107.6 26.9,106.1Z" fill="#b13129"/>
<path d="M55.9,109.2C56.1,107.2 57.4,102.4 58.5,101.3C59.6,100.2 62,100.8 62.5,102.6C63,104.3 62.1,110 61.2,111.8C60.3,113.5 58.1,113.5 57.2,113.1C56.3,112.7 55.7,111.2 55.9,109.2Z" fill="#b13129"/>
<path d="M48,144C47.9,143.2 49.6,142 50.5,142C51.4,142 53.2,143.2 53.3,144C53.4,144.8 51.9,146.5 51,146.5C50.1,146.5 48.1,144.8 48,144Z" fill="#b13129"/>
<path d="M36,101C36.2,100.2 37.9,99.9 39,100C40.1,100.1 42,100.8 42.5,101.5C43,102.2 42.8,103.5 42,104C41.2,104.5 39,105 38,104.5C37,104 35.8,101.8 36,101Z" fill="#761d1d"/>
<path d="M37,126.8C37.1,126.2 39.2,125.8 40,126C40.8,126.2 42.1,127.4 42,128C41.9,128.6 40.3,129.7 39.5,129.5C38.7,129.3 36.9,127.4 37,126.8Z" fill="#761d1d"/>
<path d="M38.5,102.5C38.4,102.1 39.8,101.5 40.5,101.4C41.2,101.4 42.7,101.8 42.8,102.2C42.9,102.6 41.7,103.5 41,103.6C40.3,103.6 38.6,102.9 38.5,102.5Z" fill="#3d1515"/>
<path d="M25.7,148C25.7,146.9 27.9,144.6 29,144.6C30.1,144.6 32.3,146.9 32.3,148C32.3,149.1 30.1,151.2 29,151.2C27.9,151.2 25.7,149.1 25.7,148Z" fill="#3d1515"/>
<path d="M61.5,148C61.5,146.9 63.8,144.6 65,144.6C66.2,144.6 68.8,146.9 68.8,148C68.8,149.1 66.2,151.2 65,151.2C63.8,151.2 61.5,149.1 61.5,148Z" fill="#3d1515"/>
<use href="#mlines" transform="translate(-1.7,-0.3)"/>
</g>
<rect x="-1" y="-1" width="66.7" height="20.7" fill="#fff" fill-opacity="0.9"/>
<text x="3.4" y="14.5" font-size="14.9" textLength="49.93" lengthAdjust="spacingAndGlyphs" fill="#111">j) ERA5</text>
</g>
<rect x="-2" y="-2" width="178" height="156" fill="none" stroke="#000000" stroke-width="4" stroke-dasharray="10.5,4.2"/>
</g>
<text x="23.3" y="62.3" font-size="14.8" textLength="34.53" lengthAdjust="spacingAndGlyphs" fill="#111">15°N</text>
<text x="23.3" y="88" font-size="14.8" textLength="34.53" lengthAdjust="spacingAndGlyphs" fill="#111">10°N</text>
<text x="32" y="113.7" font-size="14.8" textLength="25.81" lengthAdjust="spacingAndGlyphs" fill="#111">5°N</text>
<text x="42.2" y="139.4" font-size="14.8" textLength="15.57" lengthAdjust="spacingAndGlyphs" fill="#111">0°</text>
<text x="33.5" y="165.1" font-size="14.8" textLength="24.26" lengthAdjust="spacingAndGlyphs" fill="#111">5°S</text>
<text x="23.3" y="229.4" font-size="14.8" textLength="34.53" lengthAdjust="spacingAndGlyphs" fill="#111">15°N</text>
<text x="23.3" y="255.1" font-size="14.8" textLength="34.53" lengthAdjust="spacingAndGlyphs" fill="#111">10°N</text>
<text x="32" y="280.8" font-size="14.8" textLength="25.81" lengthAdjust="spacingAndGlyphs" fill="#111">5°N</text>
<text x="42.2" y="306.5" font-size="14.8" textLength="15.57" lengthAdjust="spacingAndGlyphs" fill="#111">0°</text>
<text x="33.5" y="332.2" font-size="14.8" textLength="24.26" lengthAdjust="spacingAndGlyphs" fill="#111">5°S</text>
<text x="23.3" y="396.3" font-size="14.8" textLength="34.53" lengthAdjust="spacingAndGlyphs" fill="#111">15°N</text>
<text x="23.3" y="422" font-size="14.8" textLength="34.53" lengthAdjust="spacingAndGlyphs" fill="#111">10°N</text>
<text x="32" y="447.7" font-size="14.8" textLength="25.81" lengthAdjust="spacingAndGlyphs" fill="#111">5°N</text>
<text x="42.2" y="473.4" font-size="14.8" textLength="15.57" lengthAdjust="spacingAndGlyphs" fill="#111">0°</text>
<text x="33.5" y="499.1" font-size="14.8" textLength="24.26" lengthAdjust="spacingAndGlyphs" fill="#111">5°S</text>
<text x="19.8" y="563.7" font-size="14.8" textLength="34.53" lengthAdjust="spacingAndGlyphs" fill="#111">15°N</text>
<text x="19.8" y="589.4" font-size="14.8" textLength="34.53" lengthAdjust="spacingAndGlyphs" fill="#111">10°N</text>
<text x="28.5" y="615.1" font-size="14.8" textLength="25.81" lengthAdjust="spacingAndGlyphs" fill="#111">5°N</text>
<text x="38.7" y="640.8" font-size="14.8" textLength="15.57" lengthAdjust="spacingAndGlyphs" fill="#111">0°</text>
<text x="30" y="666.5" font-size="14.8" textLength="24.26" lengthAdjust="spacingAndGlyphs" fill="#111">5°S</text>
<text x="263.4" y="539.7" font-size="14.9" textLength="33.18" lengthAdjust="spacingAndGlyphs" fill="#111">25°E</text>
<text x="315" y="539.7" font-size="14.9" textLength="33.18" lengthAdjust="spacingAndGlyphs" fill="#111">35°E</text>
<text x="366.7" y="539.7" font-size="14.9" textLength="33.18" lengthAdjust="spacingAndGlyphs" fill="#111">45°E</text>
<text x="456.8" y="539.7" font-size="14.9" textLength="33.18" lengthAdjust="spacingAndGlyphs" fill="#111">25°E</text>
<text x="508.4" y="539.7" font-size="14.9" textLength="33.18" lengthAdjust="spacingAndGlyphs" fill="#111">35°E</text>
<text x="559.8" y="539.7" font-size="14.9" textLength="33.18" lengthAdjust="spacingAndGlyphs" fill="#111">45°E</text>
<text x="67.1" y="706.8" font-size="14.9" textLength="33.18" lengthAdjust="spacingAndGlyphs" fill="#111">25°E</text>
<text x="118.9" y="706.8" font-size="14.9" textLength="33.18" lengthAdjust="spacingAndGlyphs" fill="#111">35°E</text>
<text x="170.9" y="706.8" font-size="14.9" textLength="33.18" lengthAdjust="spacingAndGlyphs" fill="#111">45°E</text>
<rect x="647.2" y="79.3" width="9.6" height="56.8" fill="#3d1515"/>
<rect x="647.2" y="135.8" width="9.6" height="56.2" fill="#761d1d"/>
<rect x="647.2" y="191.7" width="9.6" height="56.4" fill="#b13129"/>
<rect x="647.2" y="247.8" width="9.6" height="57.1" fill="#e0532b"/>
<rect x="647.2" y="304.6" width="9.6" height="55.8" fill="#eda02e"/>
<rect x="647.2" y="360.1" width="9.6" height="57" fill="#f9df7b"/>
<rect x="647.2" y="416.8" width="9.6" height="56.3" fill="#fbf3b1"/>
<path d="M647.2,82.3 L647.2,79.3 L652,59.3 L656.8,79.3 L656.8,82.3 Z" fill="#3d1515"/>
<path d="M647.2,469.8 L647.2,472.8 L652,492.3 L656.8,472.8 L656.8,469.8 Z" fill="#fbf3b1"/>
<path d="M647.2,472.8 L647.2,79.3 L652,59.3 L656.8,79.3 L656.8,472.8 L652,492.3 Z" fill="none" stroke="#111" stroke-width="0.9"/>
<line x1="656.8" y1="79.3" x2="661.6" y2="79.3" stroke="#111" stroke-width="0.9"/>
<text x="667" y="84.5" font-size="14.5" textLength="18.07" lengthAdjust="spacingAndGlyphs" fill="#111">14</text>
<line x1="656.8" y1="135.8" x2="661.6" y2="135.8" stroke="#111" stroke-width="0.9"/>
<text x="667" y="141" font-size="14.5" textLength="18.07" lengthAdjust="spacingAndGlyphs" fill="#111">12</text>
<line x1="656.8" y1="191.7" x2="661.6" y2="191.7" stroke="#111" stroke-width="0.9"/>
<text x="667" y="196.9" font-size="14.5" textLength="18.07" lengthAdjust="spacingAndGlyphs" fill="#111">10</text>
<line x1="656.8" y1="247.8" x2="661.6" y2="247.8" stroke="#111" stroke-width="0.9"/>
<text x="667" y="253" font-size="14.5" textLength="9.03" lengthAdjust="spacingAndGlyphs" fill="#111">8</text>
<line x1="656.8" y1="304.6" x2="661.6" y2="304.6" stroke="#111" stroke-width="0.9"/>
<text x="667" y="309.8" font-size="14.5" textLength="9.03" lengthAdjust="spacingAndGlyphs" fill="#111">6</text>
<line x1="656.8" y1="360.1" x2="661.6" y2="360.1" stroke="#111" stroke-width="0.9"/>
<text x="667" y="365.3" font-size="14.5" textLength="9.03" lengthAdjust="spacingAndGlyphs" fill="#111">4</text>
<line x1="656.8" y1="416.8" x2="661.6" y2="416.8" stroke="#111" stroke-width="0.9"/>
<text x="667" y="422" font-size="14.5" textLength="9.03" lengthAdjust="spacingAndGlyphs" fill="#111">2</text>
<line x1="656.8" y1="472.8" x2="661.6" y2="472.8" stroke="#111" stroke-width="0.9"/>
<text x="667" y="478" font-size="14.5" textLength="9.03" lengthAdjust="spacingAndGlyphs" fill="#111">1</text>
<path d="M644.5,505.4 H640.4 V544.8 H644.5" fill="none" stroke="#111" stroke-width="1.7"/>
<path d="M680,505.4 H684.2 V544.8 H680" fill="none" stroke="#111" stroke-width="1.7"/>
<text x="645.8" y="515.5" font-family="Liberation Serif" font-style="italic" font-size="21" textLength="33" lengthAdjust="spacingAndGlyphs" fill="#111">mm</text>
<line x1="645" y1="524.9" x2="680.5" y2="524.9" stroke="#111" stroke-width="1.6"/>
<text x="645.8" y="544" font-family="Liberation Serif" font-style="italic" font-size="20.5" textLength="33" lengthAdjust="spacingAndGlyphs" fill="#111">day</text>
<path d="M5.3,822.3 H1.2 V861.7 H5.3" fill="none" stroke="#111" stroke-width="1.7"/>
<path d="M40.8,822.3 H45 V861.7 H40.8" fill="none" stroke="#111" stroke-width="1.7"/>
<text x="6.6" y="832.4" font-family="Liberation Serif" font-style="italic" font-size="21" textLength="33" lengthAdjust="spacingAndGlyphs" fill="#111">mm</text>
<line x1="5.8" y1="841.8" x2="41.3" y2="841.8" stroke="#111" stroke-width="1.6"/>
<text x="6.6" y="860.9" font-family="Liberation Serif" font-style="italic" font-size="20.5" textLength="33" lengthAdjust="spacingAndGlyphs" fill="#111">day</text>
<text x="256.6" y="721.4" font-weight="bold" fill="#111" textLength="86.4" lengthAdjust="spacingAndGlyphs"><tspan font-size="22.5">R</tspan><tspan font-size="17.2">A</tspan><tspan font-size="17.2">I</tspan><tspan font-size="17.2">N</tspan><tspan font-size="17.2">F</tspan><tspan font-size="17.2">A</tspan><tspan font-size="17.2">L</tspan><tspan font-size="17.2">L</tspan></text>
<text x="349.5" y="721.4" font-weight="bold" fill="#111" textLength="97.7" lengthAdjust="spacingAndGlyphs"><tspan font-size="17.2">A</tspan><tspan font-size="17.2">N</tspan><tspan font-size="17.2">O</tspan><tspan font-size="17.2">M</tspan><tspan font-size="17.2">A</tspan><tspan font-size="17.2">L</tspan><tspan font-size="17.2">Y</tspan></text>
<text x="455.8" y="721.4" font-weight="bold" fill="#111" textLength="71.1" lengthAdjust="spacingAndGlyphs"><tspan font-size="22.5">(</tspan><tspan font-size="22.5">O</tspan><tspan font-size="22.5">N</tspan><tspan font-size="22.5">D</tspan><tspan font-size="22.5">)</tspan></text>
<g stroke="#b0b0b0" stroke-width="0.9">
<line x1="67.5" y1="951.65" x2="631.3" y2="951.65"/>
<line x1="67.5" y1="906.4" x2="631.3" y2="906.4"/>
<line x1="67.5" y1="861.15" x2="631.3" y2="861.15"/>
<line x1="67.5" y1="815.9" x2="631.3" y2="815.9"/>
<line x1="67.5" y1="770.65" x2="631.3" y2="770.65"/>
<line x1="137.5" y1="737.5" x2="137.5" y2="961.6"/>
<line x1="249" y1="737.5" x2="249" y2="961.6"/>
<line x1="360.5" y1="737.5" x2="360.5" y2="961.6"/>
<line x1="472" y1="737.5" x2="472" y2="961.6"/>
<line x1="583.5" y1="737.5" x2="583.5" y2="961.6"/>
</g>
<g fill="none" stroke-width="1.15" stroke-linejoin="miter">
<polyline points="92.9,945.77 115.2,765.67 137.5,886.04 159.8,926.76 182.1,753 204.4,929.93 226.7,945.77 249,934 271.3,940.79 293.6,919.52 315.9,939.43 338.2,907.3 360.5,919.07 382.8,882.42 405.1,906.4 427.4,934.91 449.7,898.71 472,919.98 494.3,913.64 516.6,912.74 538.9,945.31 561.2,925.86 583.5,862.96 605.8,948.48" stroke="#5ec6e6"/>
<polyline points="92.9,918.16 115.2,850.74 137.5,906.4 159.8,932.64 182.1,823.14 204.4,931.29 226.7,926.31 249,925.4 271.3,922.24 293.6,895.54 315.9,918.16 338.2,908.66 360.5,920.43 382.8,886.94 405.1,907.3 427.4,924.5 449.7,906.4 472,920.88 494.3,905.04 516.6,897.35 538.9,910.92 561.2,914.09 583.5,851.65 605.8,931.29" stroke="#e8e62a"/>
<polyline points="92.9,925.4 115.2,891.01 137.5,906.4 159.8,931.29 182.1,811.38 204.4,911.83 226.7,910.02 249,924.5 271.3,895.54 293.6,905.95 315.9,905.95 338.2,900.06 360.5,911.83 382.8,895.54 405.1,907.3 427.4,913.19 449.7,896.44 472,923.6 494.3,909.57 516.6,922.24 538.9,912.74 561.2,923.14 583.5,901.42 605.8,932.64" stroke="#df7fdf"/>
<polyline points="92.9,907.76 115.2,858.43 137.5,904.14 159.8,929.93 182.1,815.45 204.4,922.24 226.7,921.78 249,915.45 271.3,916.81 293.6,914.54 315.9,919.07 338.2,901.42 360.5,923.14 382.8,885.58 405.1,904.14 427.4,925.4 449.7,909.57 472,927.22 494.3,892.37 516.6,898.71 538.9,924.05 561.2,909.57 583.5,871.11 605.8,932.64" stroke="#3d9a30"/>
<polyline points="92.9,922.24 115.2,895.99 137.5,910.92 159.8,935.81 182.1,863.87 204.4,912.28 226.7,898.25 249,902.78 271.3,920.43 293.6,909.57 315.9,922.24 338.2,914.54 360.5,915.45 382.8,902.78 405.1,896.9 427.4,907.3 449.7,906.4 472,901.88 494.3,881.96 516.6,897.35 538.9,909.57 561.2,905.04 583.5,876.99 605.8,929.93" stroke="#f07142"/>
<polyline points="92.9,907.76 115.2,843.05 137.5,888.75 159.8,922.24 182.1,872.91 204.4,935.81 226.7,912.28 249,917.71 271.3,926.31 293.6,893.73 315.9,914.54 338.2,900.06 360.5,928.12 382.8,897.8 405.1,913.19 427.4,921.78 449.7,918.16 472,943.5 494.3,894.18 516.6,873.82 538.9,914.09 561.2,905.04 583.5,857.08 605.8,935.81" stroke="#4a6fd8"/>
<polyline points="92.9,912.28 115.2,891.92 137.5,903.68 159.8,915 182.1,897.8 204.4,899.16 226.7,907.76 249,908.66 271.3,904.14 293.6,904.14 315.9,911.83 338.2,902.78 360.5,915.45 382.8,915.9 405.1,904.14 427.4,916.81 449.7,905.04 472,905.04 494.3,901.42 516.6,903.23 538.9,915.9 561.2,905.04 583.5,880.15 605.8,911.83" stroke="#6e6e6e"/>
<polyline points="92.9,913.64 115.2,903.68 137.5,899.16 159.8,914.54 182.1,898.25 204.4,898.25 226.7,909.12 249,911.83 271.3,909.57 293.6,901.88 315.9,902.78 338.2,898.71 360.5,910.02 382.8,907.3 405.1,900.06 427.4,914.54 449.7,907.3 472,908.66 494.3,905.5 516.6,906.4 538.9,905.04 561.2,898.71 583.5,878.8 605.8,911.83" stroke="#8a3424"/>
</g>
<polyline points="92.9,932.64 115.2,869.75 137.5,915 159.8,938.53 182.1,751.64 204.4,948.03 226.7,918.16 249,908.66 271.3,911.83 293.6,895.54 315.9,924.95 338.2,889.2 360.5,945.77 382.8,856.17 405.1,938.07 427.4,926.31 449.7,905.04 472,953.01 494.3,876.99 516.6,901.88 538.9,904.14 561.2,918.16 583.5,878.8 605.8,951.65" fill="none" stroke="#000" stroke-width="1.5" stroke-dasharray="5.5,2.4"/>
<polygon points="92.9,928.44 93.94,931.22 96.89,931.35 94.58,933.19 95.37,936.04 92.9,934.41 90.43,936.04 91.22,933.19 88.91,931.35 91.86,931.22" fill="#000"/>
<polygon points="115.2,865.55 116.24,868.32 119.19,868.45 116.88,870.29 117.67,873.15 115.2,871.51 112.73,873.15 113.52,870.29 111.21,868.45 114.16,868.32" fill="#000"/>
<polygon points="137.5,910.8 138.54,913.57 141.49,913.7 139.18,915.54 139.97,918.4 137.5,916.76 135.03,918.4 135.82,915.54 133.51,913.7 136.46,913.57" fill="#000"/>
<polygon points="159.8,934.33 160.84,937.1 163.79,937.23 161.48,939.07 162.27,941.93 159.8,940.29 157.33,941.93 158.12,939.07 155.81,937.23 158.76,937.1" fill="#000"/>
<polygon points="182.1,747.44 183.14,750.22 186.09,750.35 183.78,752.19 184.57,755.04 182.1,753.41 179.63,755.04 180.42,752.19 178.11,750.35 181.06,750.22" fill="#000"/>
<polygon points="204.4,943.83 205.44,946.6 208.39,946.73 206.08,948.58 206.87,951.43 204.4,949.79 201.93,951.43 202.72,948.58 200.41,946.73 203.36,946.6" fill="#000"/>
<polygon points="226.7,913.96 227.74,916.74 230.69,916.87 228.38,918.71 229.17,921.56 226.7,919.93 224.23,921.56 225.02,918.71 222.71,916.87 225.66,916.74" fill="#000"/>
<polygon points="249,904.46 250.04,907.24 252.99,907.36 250.68,909.21 251.47,912.06 249,910.43 246.53,912.06 247.32,909.21 245.01,907.36 247.96,907.24" fill="#000"/>
<polygon points="271.3,907.63 272.34,910.4 275.29,910.53 272.98,912.38 273.77,915.23 271.3,913.59 268.83,915.23 269.62,912.38 267.31,910.53 270.26,910.4" fill="#000"/>
<polygon points="293.6,891.34 294.64,894.11 297.59,894.24 295.28,896.09 296.07,898.94 293.6,897.3 291.13,898.94 291.92,896.09 289.61,894.24 292.56,894.11" fill="#000"/>
<polygon points="315.9,920.75 316.94,923.53 319.89,923.65 317.58,925.5 318.37,928.35 315.9,926.72 313.43,928.35 314.22,925.5 311.91,923.65 314.86,923.53" fill="#000"/>
<polygon points="338.2,885 339.24,887.78 342.19,887.91 339.88,889.75 340.67,892.6 338.2,890.97 335.73,892.6 336.52,889.75 334.21,887.91 337.16,887.78" fill="#000"/>
<polygon points="360.5,941.57 361.54,944.34 364.49,944.47 362.18,946.31 362.97,949.17 360.5,947.53 358.03,949.17 358.82,946.31 356.51,944.47 359.46,944.34" fill="#000"/>
<polygon points="382.8,851.97 383.84,854.75 386.79,854.87 384.48,856.72 385.27,859.57 382.8,857.94 380.33,859.57 381.12,856.72 378.81,854.87 381.76,854.75" fill="#000"/>
<polygon points="405.1,933.87 406.14,936.65 409.09,936.78 406.78,938.62 407.57,941.47 405.1,939.84 402.63,941.47 403.42,938.62 401.11,936.78 404.06,936.65" fill="#000"/>
<polygon points="427.4,922.11 428.44,924.88 431.39,925.01 429.08,926.86 429.87,929.71 427.4,928.07 424.93,929.71 425.72,926.86 423.41,925.01 426.36,924.88" fill="#000"/>
<polygon points="449.7,900.84 450.74,903.62 453.69,903.74 451.38,905.59 452.17,908.44 449.7,906.81 447.23,908.44 448.02,905.59 445.71,903.74 448.66,903.62" fill="#000"/>
<polygon points="472,948.81 473.04,951.58 475.99,951.71 473.68,953.55 474.47,956.41 472,954.77 469.53,956.41 470.32,953.55 468.01,951.71 470.96,951.58" fill="#000"/>
<polygon points="494.3,872.79 495.34,875.56 498.29,875.69 495.98,877.53 496.77,880.39 494.3,878.75 491.83,880.39 492.62,877.53 490.31,875.69 493.26,875.56" fill="#000"/>
<polygon points="516.6,897.67 517.64,900.45 520.59,900.58 518.28,902.42 519.07,905.27 516.6,903.64 514.13,905.27 514.92,902.42 512.61,900.58 515.56,900.45" fill="#000"/>
<polygon points="538.9,899.94 539.94,902.71 542.89,902.84 540.58,904.68 541.37,907.54 538.9,905.9 536.43,907.54 537.22,904.68 534.91,902.84 537.86,902.71" fill="#000"/>
<polygon points="561.2,913.96 562.24,916.74 565.19,916.87 562.88,918.71 563.67,921.56 561.2,919.93 558.73,921.56 559.52,918.71 557.21,916.87 560.16,916.74" fill="#000"/>
<polygon points="583.5,874.6 584.54,877.37 587.49,877.5 585.18,879.34 585.97,882.2 583.5,880.56 581.03,882.2 581.82,879.34 579.51,877.5 582.46,877.37" fill="#000"/>
<polygon points="605.8,947.45 606.84,950.22 609.79,950.35 607.48,952.2 608.27,955.05 605.8,953.41 603.33,955.05 604.12,952.2 601.81,950.35 604.76,950.22" fill="#000"/>
<polyline points="92.9,935.59 115.2,875.63 137.5,919.52 159.8,943.05 182.1,748.93 204.4,939.88 226.7,912.28 249,906.85 271.3,914.54 293.6,895.09 315.9,920.43 338.2,893.28 360.5,948.03 382.8,852.55 405.1,935.81 427.4,924.95 449.7,903.23 472,945.31 494.3,881.96 516.6,903.23 538.9,901.42 561.2,914.09 583.5,894.18 605.8,940.79" fill="none" stroke="#000" stroke-width="1.5"/>
<circle cx="92.9" cy="935.59" r="4.3" fill="#000"/>
<circle cx="115.2" cy="875.63" r="4.3" fill="#000"/>
<circle cx="137.5" cy="919.52" r="4.3" fill="#000"/>
<circle cx="159.8" cy="943.05" r="4.3" fill="#000"/>
<circle cx="182.1" cy="748.93" r="4.3" fill="#000"/>
<circle cx="204.4" cy="939.88" r="4.3" fill="#000"/>
<circle cx="226.7" cy="912.28" r="4.3" fill="#000"/>
<circle cx="249" cy="906.85" r="4.3" fill="#000"/>
<circle cx="271.3" cy="914.54" r="4.3" fill="#000"/>
<circle cx="293.6" cy="895.09" r="4.3" fill="#000"/>
<circle cx="315.9" cy="920.43" r="4.3" fill="#000"/>
<circle cx="338.2" cy="893.28" r="4.3" fill="#000"/>
<circle cx="360.5" cy="948.03" r="4.3" fill="#000"/>
<circle cx="382.8" cy="852.55" r="4.3" fill="#000"/>
<circle cx="405.1" cy="935.81" r="4.3" fill="#000"/>
<circle cx="427.4" cy="924.95" r="4.3" fill="#000"/>
<circle cx="449.7" cy="903.23" r="4.3" fill="#000"/>
<circle cx="472" cy="945.31" r="4.3" fill="#000"/>
<circle cx="494.3" cy="881.96" r="4.3" fill="#000"/>
<circle cx="516.6" cy="903.23" r="4.3" fill="#000"/>
<circle cx="538.9" cy="901.42" r="4.3" fill="#000"/>
<circle cx="561.2" cy="914.09" r="4.3" fill="#000"/>
<circle cx="583.5" cy="894.18" r="4.3" fill="#000"/>
<circle cx="605.8" cy="940.79" r="4.3" fill="#000"/>
<rect x="67.5" y="737.5" width="563.8" height="224.1" fill="none" stroke="#222" stroke-width="1"/>
<line x1="63.6" y1="951.65" x2="67.5" y2="951.65" stroke="#222" stroke-width="1"/>
<text x="37.2" y="957.1" font-size="15.5" textLength="22.41" lengthAdjust="spacingAndGlyphs" fill="#111">−1</text>
<line x1="63.6" y1="906.4" x2="67.5" y2="906.4" stroke="#222" stroke-width="1"/>
<text x="49.9" y="911.9" font-size="15.5" textLength="9.67" lengthAdjust="spacingAndGlyphs" fill="#111">0</text>
<line x1="63.6" y1="861.15" x2="67.5" y2="861.15" stroke="#222" stroke-width="1"/>
<text x="49.9" y="866.6" font-size="15.5" textLength="9.67" lengthAdjust="spacingAndGlyphs" fill="#111">1</text>
<line x1="63.6" y1="815.9" x2="67.5" y2="815.9" stroke="#222" stroke-width="1"/>
<text x="49.9" y="821.4" font-size="15.5" textLength="9.67" lengthAdjust="spacingAndGlyphs" fill="#111">2</text>
<line x1="63.6" y1="770.65" x2="67.5" y2="770.65" stroke="#222" stroke-width="1"/>
<text x="49.9" y="776.1" font-size="15.5" textLength="9.67" lengthAdjust="spacingAndGlyphs" fill="#111">3</text>
<line x1="137.5" y1="961.6" x2="137.5" y2="965.5" stroke="#222" stroke-width="1"/>
<text x="118.5" y="981.7" font-size="15.5" textLength="38.68" lengthAdjust="spacingAndGlyphs" fill="#111">1995</text>
<line x1="249" y1="961.6" x2="249" y2="965.5" stroke="#222" stroke-width="1"/>
<text x="230" y="981.7" font-size="15.5" textLength="38.68" lengthAdjust="spacingAndGlyphs" fill="#111">2000</text>
<line x1="360.5" y1="961.6" x2="360.5" y2="965.5" stroke="#222" stroke-width="1"/>
<text x="341.5" y="981.7" font-size="15.5" textLength="38.68" lengthAdjust="spacingAndGlyphs" fill="#111">2005</text>
<line x1="472" y1="961.6" x2="472" y2="965.5" stroke="#222" stroke-width="1"/>
<text x="453" y="981.7" font-size="15.5" textLength="38.68" lengthAdjust="spacingAndGlyphs" fill="#111">2010</text>
<line x1="583.5" y1="961.6" x2="583.5" y2="965.5" stroke="#222" stroke-width="1"/>
<text x="564.5" y="981.7" font-size="15.5" textLength="38.68" lengthAdjust="spacingAndGlyphs" fill="#111">2015</text>
<text x="324.1" y="1010" font-size="24.9" textLength="59.71" lengthAdjust="spacingAndGlyphs" fill="#111">Time</text>
<text x="82.9" y="757.6" font-size="15.9" textLength="15.12" lengthAdjust="spacingAndGlyphs" fill="#111">k)</text>
<rect x="288.9" y="744.7" width="336.1" height="87.5" rx="3" fill="#fff" fill-opacity="0.85" stroke="#d0d0d0" stroke-width="1"/>
<line x1="294.3" y1="756.6" x2="324" y2="756.6" stroke="#000" stroke-width="1.5"/>
<circle cx="309.15" cy="756.6" r="4" fill="#000"/>
<text x="334.8" y="761.8" font-size="14.4" textLength="37.78" lengthAdjust="spacingAndGlyphs" fill="#111">GPCP</text>
<line x1="294.3" y1="777.1" x2="324" y2="777.1" stroke="#000" stroke-width="1.5" stroke-dasharray="5,2.5"/>
<polygon points="309.15,772.9 310.19,775.67 313.14,775.8 310.83,777.65 311.62,780.5 309.15,778.86 306.68,780.5 307.47,777.65 305.16,775.8 308.11,775.67" fill="#000"/>
<text x="334.8" y="782.3" font-size="14.4" textLength="36.75" lengthAdjust="spacingAndGlyphs" fill="#111">ERA5</text>
<line x1="294.3" y1="798.2" x2="324" y2="798.2" stroke="#5ec6e6" stroke-width="1.2"/>
<text x="334.8" y="803.4" font-size="14.4" textLength="25.97" lengthAdjust="spacingAndGlyphs" fill="#111">JMA</text>
<line x1="294.3" y1="819.3" x2="324" y2="819.3" stroke="#e8e62a" stroke-width="1.2"/>
<text x="334.8" y="824.5" font-size="14.4" textLength="52.97" lengthAdjust="spacingAndGlyphs" fill="#111">ECMWF</text>
<line x1="415.9" y1="756.6" x2="445.6" y2="756.6" stroke="#df7fdf" stroke-width="1.2"/>
<text x="456.4" y="761.8" font-size="14.4" textLength="38.45" lengthAdjust="spacingAndGlyphs" fill="#111">ECCC</text>
<line x1="415.9" y1="777.1" x2="445.6" y2="777.1" stroke="#3d9a30" stroke-width="1.2"/>
<text x="456.4" y="782.3" font-size="14.4" textLength="42.83" lengthAdjust="spacingAndGlyphs" fill="#111">UKMO</text>
<line x1="415.9" y1="798.2" x2="445.6" y2="798.2" stroke="#f07142" stroke-width="1.2"/>
<text x="456.4" y="803.4" font-size="14.4" textLength="41.70" lengthAdjust="spacingAndGlyphs" fill="#111">CMCC</text>
<line x1="526.6" y1="756.6" x2="556.3" y2="756.6" stroke="#4a6fd8" stroke-width="1.2"/>
<text x="567.1" y="761.8" font-size="14.4" textLength="51.78" lengthAdjust="spacingAndGlyphs" fill="#111">MeteoF</text>
<line x1="526.6" y1="777.1" x2="556.3" y2="777.1" stroke="#6e6e6e" stroke-width="1.2"/>
<text x="567.1" y="782.3" font-size="14.4" textLength="37.81" lengthAdjust="spacingAndGlyphs" fill="#111">NCEP</text>
<line x1="526.6" y1="798.2" x2="556.3" y2="798.2" stroke="#8a3424" stroke-width="1.2"/>
<text x="567.1" y="803.4" font-size="14.4" textLength="35.66" lengthAdjust="spacingAndGlyphs" fill="#111">DWD</text>
</svg></body></html>
